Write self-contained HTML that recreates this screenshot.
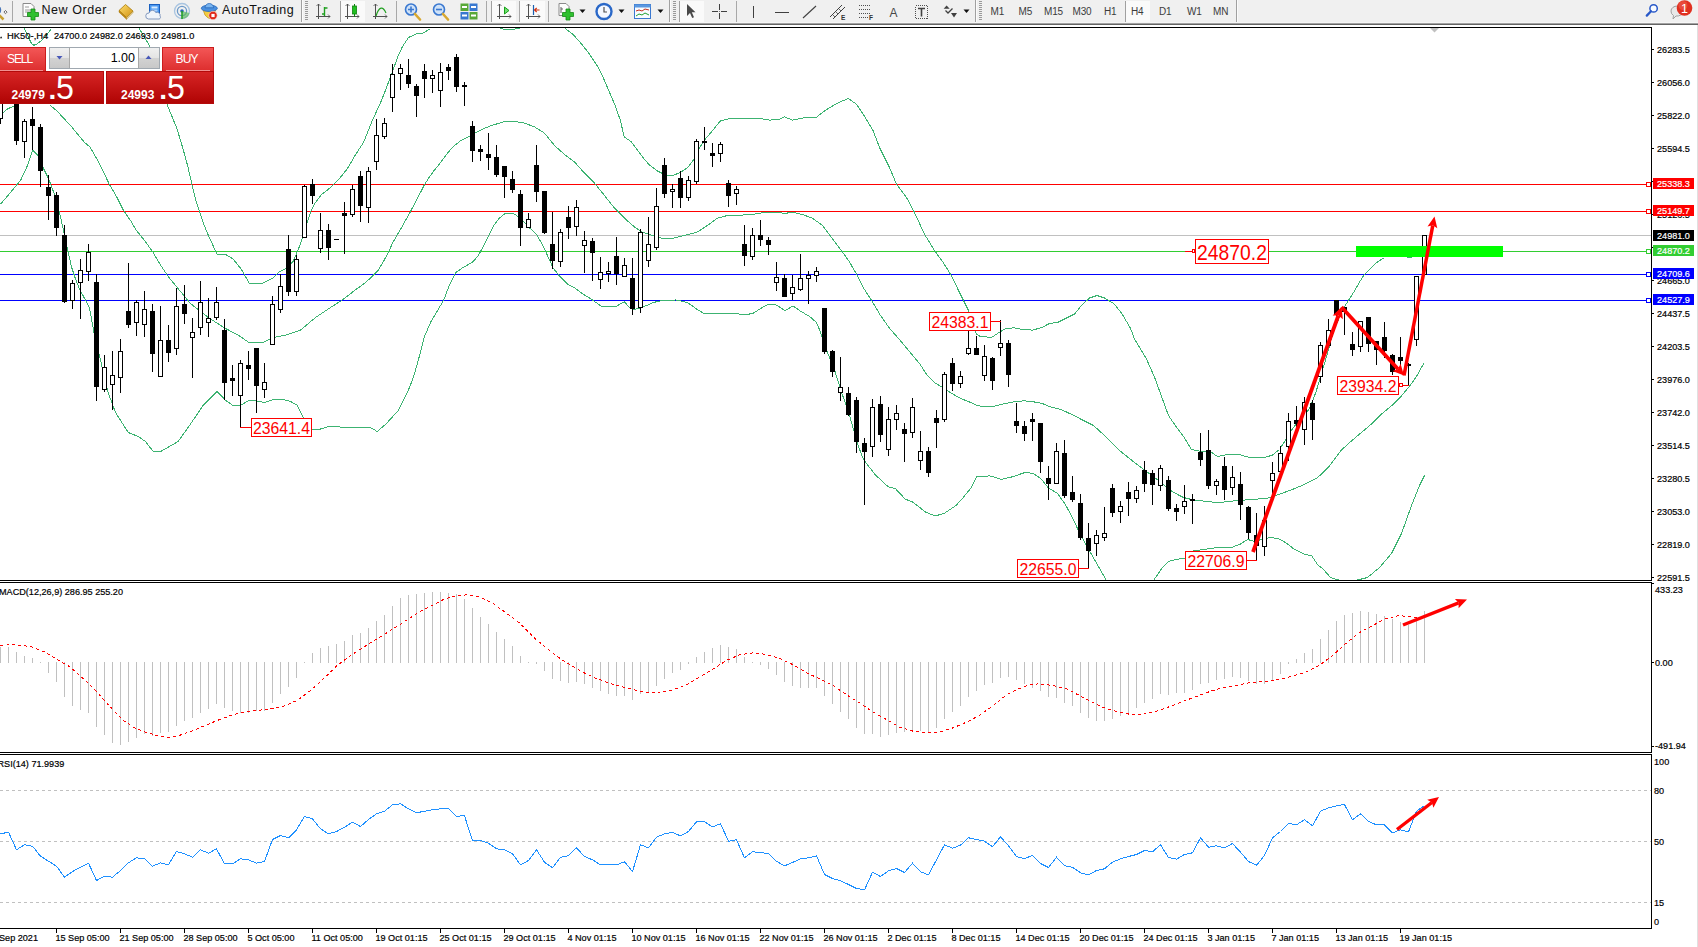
<!DOCTYPE html><html><head><meta charset="utf-8"><title>HK50-,H4</title><style>
html,body{margin:0;padding:0;background:#fff;}
body{width:1698px;height:947px;overflow:hidden;position:relative;font-family:"Liberation Sans",sans-serif;}
#tb{position:absolute;left:0;top:0;width:1698px;height:22px;background:#f0f0f0;}
#tbl0{position:absolute;left:0;top:22px;width:1698px;height:1px;background:#f6f6f6;}
#tbl1{position:absolute;left:0;top:23px;width:1698px;height:1px;background:#a2a2a2;}
#tbl2{position:absolute;left:0;top:24px;width:1698px;height:1px;background:#646464;}
#tbl3{position:absolute;left:0;top:25px;width:1698px;height:2px;background:#fff;}
#chart{position:absolute;left:0;top:0;}
.tbt{position:absolute;top:2px;font-size:12.5px;color:#101010;white-space:nowrap;line-height:16px;}
.tf{position:absolute;top:6.3px;font-size:10px;color:#3c3c3c;white-space:nowrap;line-height:12px;letter-spacing:-0.2px}
.sep{position:absolute;top:1px;width:1px;height:21px;background:#a8a8a8;}
.bnd{position:absolute;top:0;width:1px;height:23px;background:#a0a0a0;box-shadow:1px 0 0 #fbfbfb}
.hdl{position:absolute;top:1px;width:3px;height:19px;background:repeating-linear-gradient(to bottom,#9a9a9a 0,#9a9a9a 1px,#f0f0f0 1px,#f0f0f0 2px);}
.prs{position:absolute;top:1px;height:21px;background:#fafafa;border-left:1px solid #a0a0a0;box-sizing:border-box}
.ic{position:absolute;top:2px;}
#panel{position:absolute;left:0;top:47px;width:214px;height:57px;}
#panel div{position:absolute;box-sizing:border-box;}
.rbtn{background:linear-gradient(#f35656,#dc2c2c);color:#fff;font-size:12px;border:1px solid #cc1c1c;border-bottom:none}
.rbox{background:linear-gradient(#d62424,#b00404);color:#fff;border:1px solid #b40a0a;}
.sm{font-weight:bold;font-size:12px;color:#fff;line-height:12px;}
.big{font-size:33.5px;color:#fff;line-height:33.5px;transform-origin:0 0;transform:scaleX(0.96);}
.dot{font-size:28px;font-weight:bold;color:#fff;line-height:28px;}

</style></head><body>
<div id="tb">
<svg class="ic" style="left:0px;top:2px" width="10" height="20" viewBox="0 0 10 20"><circle cx="-3.2" cy="8" r="4" fill="#6aa0e0" stroke="#3a6ab0"/><path d="M-1 13 L3.500 17.500" stroke="#c8a030" stroke-width="2.500"/><path d="M5.500 8.500 l1.600 1.600 l-1.600 1.600 l-1.600 -1.600 z" fill="none" stroke="#333" stroke-width="0.700"/></svg>
<div class="sep" style="left:12px"></div>
<svg class="ic" style="left:21px;top:1px" width="20" height="21" viewBox="0 0 20 21"><path d="M2 2.5 h8 l3 3 v10 h-11 z" fill="#fdfdfd" stroke="#8a8a8a"/><path d="M4 6h4M4 9h6M4 11h6" stroke="#9a9a9a"/><path d="M10 8 h4 v3.5 h3.5 v4 h-3.5 v3.5 h-4 v-3.5 h-3.5 v-4 h3.5 z" fill="#2fc02f" stroke="#158a15" stroke-width="0.8"/></svg>
<div class="tbt" style="left:41.5px;letter-spacing:0.55px">New Order</div>
<svg class="ic" style="left:117px;top:1px" width="19" height="21" viewBox="0 0 19 21"><defs><linearGradient id="gy" x1="0" y1="0" x2="1" y2="1"><stop offset="0" stop-color="#ffe070"/><stop offset="1" stop-color="#d09010"/></linearGradient></defs><path d="M2 9.500 L8.500 3.500 L16 10 L9.500 16.500 Z" fill="url(#gy)" stroke="#a87808" stroke-width="0.800"/><path d="M2 9.500 L9.500 16.500 L9.500 18.300 L2 11.200 Z" fill="#c08810" stroke="#a87808" stroke-width="0.500"/><path d="M9.500 16.500 L16 10 L16 11.500 L9.500 18.300 Z" fill="#e8d8a0" stroke="#a87808" stroke-width="0.500"/></svg>
<svg class="ic" style="left:145px;top:1px" width="19" height="21" viewBox="0 0 19 21"><rect x="4.500" y="3.500" width="10" height="8.500" fill="#4a98f0" stroke="#1a60c0"/><rect x="6.500" y="5.500" width="6" height="2" fill="#d8ecff"/><rect x="6.500" y="8.500" width="6" height="2" fill="#a8d0ff"/><path d="M3.500 18 a3 3 0 0 1 0.500 -6 a3.600 3.600 0 0 1 6.800 -0.500 a3 3 0 0 1 4.200 3.500 a1.800 1.800 0 0 1 -0.800 3 z" fill="#f0f4fa" stroke="#7890b8" stroke-width="0.900"/></svg>
<svg class="ic" style="left:173px;top:1px" width="19" height="21" viewBox="0 0 19 21"><circle cx="9" cy="10" r="7.500" fill="none" stroke="#a8c4e0" stroke-width="1.300"/><circle cx="9" cy="10" r="4.600" fill="none" stroke="#6a98c8" stroke-width="1.300"/><path d="M9 10 L9 17.800 A7.800 7.800 0 0 0 16.500 12 Z" fill="#58b858" opacity="0.650"/><circle cx="9" cy="10" r="1.800" fill="#2a68b8"/><path d="M9 10 v8" stroke="#28a028" stroke-width="1.600"/></svg>
<svg class="ic" style="left:200px;top:1px" width="19" height="21" viewBox="0 0 19 21"><path d="M3 8.500 L5 14 Q9 19 13 17 L15.500 9 Z" fill="#f4cc40" stroke="#c89818" stroke-width="0.800"/><ellipse cx="9.300" cy="7.300" rx="8" ry="3.200" fill="#4a90e0" stroke="#2a68b8" stroke-width="0.800"/><path d="M5 6.800 a4.300 4.300 0 0 1 8.600 0 z" fill="#78b4f0" stroke="#2a68b8" stroke-width="0.800"/><circle cx="13" cy="14.500" r="4.200" fill="#e02818" stroke="#f8e8e8" stroke-width="0.600"/><rect x="11.400" y="12.900" width="3.200" height="3.200" fill="#fff"/></svg>
<div class="tbt" style="left:222px;letter-spacing:0.4px">AutoTrading</div>
<div class="bnd" style="left:301px"></div>
<div class="hdl" style="left:305px"></div>
<svg class="ic" style="left:315px;top:2px" width="17" height="20" viewBox="0 0 17 20"><path d="M3.5 2 v15 M1 14.5 h14" stroke="#505050" fill="none"/><path d="M1.5 4 l2 -2 l2 2 M13 12.5 l2 2 l-2 2" stroke="#505050" fill="none" stroke-width="0.8"/><path d="M9.5 5 v9 M9.5 6 h3 M7 12 h2.5" stroke="#20a020" stroke-width="1.4" fill="none"/></svg>
<div class="prs" style="left:340px;width:25px"></div>
<svg class="ic" style="left:344px;top:2px" width="17" height="20" viewBox="0 0 17 20"><path d="M3.5 2 v15 M1 14.5 h14" stroke="#505050" fill="none"/><path d="M1.5 4 l2 -2 l2 2 M13 12.5 l2 2 l-2 2" stroke="#505050" fill="none" stroke-width="0.8"/><path d="M10.5 2 v13" stroke="#108010"/><rect x="8.5" y="4" width="4" height="8" fill="#20c020" stroke="#108010" stroke-width="0.8"/></svg>
<svg class="ic" style="left:372px;top:2px" width="17" height="20" viewBox="0 0 17 20"><path d="M3.5 2 v15 M1 14.5 h14" stroke="#505050" fill="none"/><path d="M1.5 4 l2 -2 l2 2 M13 12.5 l2 2 l-2 2" stroke="#505050" fill="none" stroke-width="0.8"/><path d="M4 14 C7 4 11 4 14 11" stroke="#20a020" fill="none" stroke-width="1.2"/></svg>
<div class="sep" style="left:396px"></div>
<svg class="ic" style="left:404px;top:2px" width="19" height="20" viewBox="0 0 19 20"><circle cx="7" cy="7.5" r="5.5" fill="#cfe2f8" stroke="#3a78d0" stroke-width="1.6"/><path d="M11 12 L16 17.5" stroke="#d8a830" stroke-width="2.6" stroke-linecap="round"/><path d="M4 7.5 h6 M7 4.5 v6" stroke="#3a78d0" stroke-width="1.6"/></svg>
<svg class="ic" style="left:432px;top:2px" width="19" height="20" viewBox="0 0 19 20"><circle cx="7" cy="7.5" r="5.5" fill="#cfe2f8" stroke="#3a78d0" stroke-width="1.6"/><path d="M11 12 L16 17.5" stroke="#d8a830" stroke-width="2.6" stroke-linecap="round"/><path d="M4 7.5 h6" stroke="#3a78d0" stroke-width="1.6"/></svg>
<svg class="ic" style="left:460px;top:2px" width="19" height="20" viewBox="0 0 19 20"><rect x="0.5" y="1.5" width="8" height="7.5" fill="#58a838"/><rect x="9.5" y="1.5" width="8" height="7.5" fill="#3878d0"/><rect x="0.5" y="10" width="8" height="7.5" fill="#3878d0"/><rect x="9.5" y="10" width="8" height="7.5" fill="#58a838"/><path d="M2 5h5M11 5h5M2 13.5h5M11 13.5h5" stroke="#fff" stroke-width="2"/></svg>
<div class="sep" style="left:486px"></div>
<div class="prs" style="left:491px;width:25px"></div>
<svg class="ic" style="left:496px;top:2px" width="17" height="20" viewBox="0 0 17 20"><path d="M3.5 2 v15 M1 14.5 h14" stroke="#505050" fill="none"/><path d="M1.5 4 l2 -2 l2 2 M13 12.5 l2 2 l-2 2" stroke="#505050" fill="none" stroke-width="0.8"/><path d="M8.500 5 l4.500 3.500 l-4.500 3.500 z" fill="#70e070" stroke="#18a018" stroke-width="1"/></svg>
<div class="sep" style="left:519px"></div>
<div class="prs" style="left:520px;width:25px;border-left:none"></div>
<svg class="ic" style="left:525px;top:2px" width="17" height="20" viewBox="0 0 17 20"><path d="M3.5 2 v15 M1 14.5 h14" stroke="#505050" fill="none"/><path d="M1.5 4 l2 -2 l2 2 M13 12.5 l2 2 l-2 2" stroke="#505050" fill="none" stroke-width="0.8"/><path d="M8.500 3 v10" stroke="#1a60b0" stroke-width="1.200"/><path d="M14.500 8 h-5 m2.200 -2 l-2.200 2 l2.200 2" stroke="#d03010" fill="none" stroke-width="1.100"/></svg>
<div class="sep" style="left:548px"></div>
<svg class="ic" style="left:557px;top:1px" width="19" height="21" viewBox="0 0 19 21"><path d="M2 2.5 h7 l3 3 v9 h-10 z" fill="#fdfdfd" stroke="#8a8a8a"/><path d="M4 6 v6 M4 8 h2" stroke="#606060"/><path d="M9 8 h4 v3.5 h3.5 v4 h-3.5 v3.5 h-4 v-3.5 h-3.5 v-4 h3.5 z" fill="#2fc02f" stroke="#158a15" stroke-width="0.8"/></svg>
<svg class="ic" style="left:579px;top:9px" width="8" height="5"><path d="M0.5 0.5 h6 l-3 3.5 z" fill="#111"/></svg>
<svg class="ic" style="left:595px;top:2px" width="19" height="20" viewBox="0 0 19 20"><circle cx="9" cy="9.5" r="7.5" fill="#f4f8ff" stroke="#2a68c8" stroke-width="2.4"/><path d="M9 5 v5 h3" stroke="#505050" fill="none" stroke-width="1.2"/></svg>
<svg class="ic" style="left:618px;top:9px" width="8" height="5"><path d="M0.5 0.5 h6 l-3 3.5 z" fill="#111"/></svg>
<svg class="ic" style="left:634px;top:2px" width="18" height="20" viewBox="0 0 18 20"><rect x="0.5" y="2.5" width="16" height="14" fill="#f8fbff" stroke="#3a78d0"/><rect x="0.5" y="2.5" width="16" height="3" fill="#5a98e0"/><path d="M2 9 l3 -1 l3 1 l3 -2 l4 1" stroke="#c03020" fill="none"/><path d="M2 14 l3 -2 l3 1 l3 -2 l4 2" stroke="#20a030" fill="none"/></svg>
<svg class="ic" style="left:657px;top:9px" width="8" height="5"><path d="M0.5 0.5 h6 l-3 3.5 z" fill="#111"/></svg>
<div class="bnd" style="left:669px"></div>
<div class="hdl" style="left:673px"></div>
<div class="prs" style="left:679px;width:25px;"></div>
<svg class="ic" style="left:685px;top:2px" width="14" height="20" viewBox="0 0 14 20"><path d="M2 2 L2 14 L5 11 L7.200 16 L9 15.200 L6.800 10.300 L10.500 10.300 Z" fill="#4a4a4a"/></svg>
<svg class="ic" style="left:711px;top:2px" width="18" height="20" viewBox="0 0 18 20"><path d="M8.500 2 v6 M8.500 11 v6 M1 9.500 h6 M10 9.500 h6" stroke="#404040"/><rect x="8" y="9" width="1" height="1" fill="#808080"/></svg>
<div class="sep" style="left:736px"></div>
<svg class="ic" style="left:748px;top:2px" width="12" height="20" viewBox="0 0 12 20"><path d="M5.5 4 v12" stroke="#404040"/></svg>
<svg class="ic" style="left:774px;top:2px" width="16" height="20" viewBox="0 0 16 20"><path d="M1 10.500 h14" stroke="#404040"/></svg>
<svg class="ic" style="left:802px;top:2px" width="16" height="20" viewBox="0 0 16 20"><path d="M1 16 L14 4" stroke="#404040" stroke-width="1.1"/></svg>
<svg class="ic" style="left:829px;top:2px" width="19" height="20" viewBox="0 0 19 20"><path d="M1 15 L13 3 M4 17 L16 5" stroke="#404040" stroke-width="1"/><path d="M3 12 l3 3 M6 9 l3 3 M9 6 l3 3" stroke="#404040" stroke-width="0.8"/><text x="12" y="17.5" font-size="6.5" font-weight="bold" fill="#303030" font-family="Liberation Sans, sans-serif">E</text></svg>
<svg class="ic" style="left:858px;top:2px" width="17" height="20" viewBox="0 0 17 20"><path d="M1 3.500 h12 M1 7.500 h12 M1 11.500 h12 M1 15.500 h9" stroke="#505050" stroke-dasharray="1 1"/><text x="11" y="17.5" font-size="6.5" font-weight="bold" fill="#303030" font-family="Liberation Sans, sans-serif">F</text></svg>
<div class="tbt" style="left:889.5px;top:4.5px;font-size:12px;color:#484848;">A</div>
<svg class="ic" style="left:914px;top:2px" width="16" height="20" viewBox="0 0 16 20"><rect x="1.500" y="3.500" width="12" height="13" fill="none" stroke="#505050" stroke-dasharray="1 1" shape-rendering="crispEdges"/><path d="M4 6.500 h7 M7.500 6.500 v8" stroke="#404040" stroke-width="1.6"/></svg>
<svg class="ic" style="left:942px;top:2px" width="16" height="20" viewBox="0 0 16 20"><path d="M1.600 6.800 L4.600 3.400 L7.700 6.800 Z M9 10.900 L15 10.900 L12 15.600 Z" fill="#404040"/><path d="M3.500 8.500 l2.500 2.500 l4.500 -4.500" stroke="#404040" fill="none" stroke-width="1.300"/></svg>
<svg class="ic" style="left:963px;top:9px" width="8" height="5"><path d="M0.5 0.5 h6 l-3 3.5 z" fill="#111"/></svg>
<div class="bnd" style="left:975px"></div>
<div class="hdl" style="left:979px"></div>
<div class="prs" style="left:1125px;width:25px"></div>
<div class="tf" style="left:990.5px">M1</div>
<div class="tf" style="left:1018.5px">M5</div>
<div class="tf" style="left:1044px">M15</div>
<div class="tf" style="left:1072.5px">M30</div>
<div class="tf" style="left:1104px">H1</div>
<div class="tf" style="left:1131px">H4</div>
<div class="tf" style="left:1159px">D1</div>
<div class="tf" style="left:1187px">W1</div>
<div class="tf" style="left:1213px">MN</div>
<div class="bnd" style="left:1236px"></div>
<svg class="ic" style="left:1642px;top:1px" width="18" height="20" viewBox="0 0 18 20"><circle cx="11.600" cy="7.400" r="3.700" fill="#f8fbff" stroke="#2858c8" stroke-width="1.500"/><path d="M9 10.300 L4.800 14.600" stroke="#2858c8" stroke-width="2.300" stroke-linecap="round"/></svg>
<svg class="ic" style="left:1669px;top:0px" width="24" height="22" viewBox="0 0 24 22"><path d="M2 11 a6 5 0 1 1 5 5 l-3 3 l0.500 -3.500 a5 5 0 0 1 -2.500 -4.500 z" fill="#e8e8e8" stroke="#a0a0a0"/><circle cx="15.500" cy="8" r="7.800" fill="#e03020"/><circle cx="14" cy="5.500" r="4.500" fill="#f06050" opacity="0.550"/><text x="15.500" y="12.500" font-size="12.500" fill="#fff" text-anchor="middle" font-family="Liberation Sans, sans-serif">1</text></svg>
</div><div id="tbl0"></div><div id="tbl1"></div><div id="tbl2"></div><div id="tbl3"></div>
<svg id="chart" width="1698" height="947" viewBox="0 0 1698 947" font-family='"Liberation Sans", sans-serif' font-size="9.8" shape-rendering="crispEdges">
<rect x="0" y="27" width="1652" height="1" fill="#000"/>
<rect x="1651" y="27" width="1" height="554" fill="#000"/>
<rect x="0" y="580" width="1652" height="1" fill="#000"/>
<rect x="0" y="582" width="1652" height="1" fill="#000"/>
<rect x="1651" y="582" width="1" height="171" fill="#000"/>
<rect x="0" y="752" width="1652" height="1" fill="#000"/>
<rect x="0" y="754" width="1652" height="1" fill="#000"/>
<rect x="1651" y="754" width="1" height="175" fill="#000"/>
<rect x="0" y="928" width="1652" height="1" fill="#000"/>
<rect x="1697" y="25" width="1" height="922" fill="#e0e0e0"/>
<clipPath id="cm"><rect x="0" y="28" width="1651" height="552"/></clipPath>
<g clip-path="url(#cm)">
<rect x="0" y="184" width="1651" height="1" fill="#ff0000"/>
<rect x="0" y="211" width="1651" height="1" fill="#ff0000"/>
<rect x="0" y="235" width="1651" height="1" fill="#c0c0c0"/>
<rect x="0" y="251" width="1651" height="1" fill="#32cd32"/>
<rect x="0" y="274" width="1651" height="1" fill="#0000ff"/>
<rect x="0" y="300" width="1651" height="1" fill="#0000ff"/>
<polyline points="24.5,28.5 28.8,38.0 31.5,43.5 33.7,45.2 35.8,44.7 42.2,40.1 46.5,35.1 51.4,28.8" fill="none" stroke="#3cb371" stroke-width="1" />
<polyline points="138.5,27.5 143.5,35.5 149.0,44.8 155.5,70.5 167.9,106.5 176.9,128.5 182.9,148.5 187.9,166.7 192.0,184.8 196.0,200.8 200.0,212.8 204.0,224.9 209.0,236.9 216.0,252.0 217.0,254.0 225.0,254.0 233.1,259.0 241.1,269.0 249.1,283.0 263.2,283.0 273.2,278.0 279.2,272.0 287.2,268.0 293.3,261.0 299.3,246.9 305.3,228.9 310.3,212.8 315.3,202.8 321.3,194.8 331.4,186.8 339.4,178.7 347.4,168.7 355.5,154.7 363.5,142.5 371.5,122.5 380.5,102.7 386.5,87.7 392.5,71.5 397.5,57.5 402.5,46.5 408.5,37.5 416.5,33.9 423.5,32.9 430.5,28.5" fill="none" stroke="#3cb371" stroke-width="1" />
<polyline points="500.5,28.0 503.5,29.1 509.5,29.5 516.5,28.9 519.5,28.0" fill="none" stroke="#3cb371" stroke-width="1" />
<polyline points="565.1,28.5 573.1,34.5 581.1,43.5 589.1,53.5 597.1,65.5 603.2,77.5 609.2,91.7 615.2,105.7 620.2,119.8 624.2,136.8 631.3,141.8 637.3,149.9 643.3,157.9 649.3,164.9 657.3,170.9 665.4,174.9 671.4,175.9 679.4,172.9 687.4,167.9 693.4,159.9 699.5,147.9 705.5,138.8 711.5,131.8 720.5,120.8 732.4,118.1 757.4,118.1 769.5,120.1 779.5,119.4 784.5,116.9 792.5,120.1 805.0,117.5 816.2,117.5 825.0,110.5 837.5,103.1 848.2,98.5 856.5,104.2 863.2,114.2 873.2,130.8 879.5,147.5 889.5,167.5 896.5,184.2 906.5,197.5 914.5,212.5 924.5,234.2 934.5,250.5 943.2,262.5 951.5,275.8 958.5,290.5 963.2,299.9 968.8,311.2 972.5,320.5 976.3,333.8 980.1,336.3 991.5,337.5 997.1,333.8 1004.5,329.1 1014.0,327.8 1023.5,329.7 1032.9,330.1 1042.3,327.3 1049.5,323.5 1057.4,322.5 1064.9,318.8 1074.4,314.1 1081.5,305.5 1089.5,298.0 1097.0,295.5 1104.5,298.0 1113.9,303.7 1121.5,313.1 1130.5,328.2 1134.5,338.9 1146.5,359.0 1154.5,377.1 1163.0,400.5 1168.5,415.5 1176.2,426.9 1183.5,436.3 1191.3,449.5 1200.5,451.4 1210.1,451.4 1217.5,456.5 1229.0,454.2 1238.4,454.2 1247.5,457.0 1262.5,458.0 1272.3,455.2 1279.5,449.5 1285.5,440.1 1291.2,430.5 1298.5,421.2 1304.2,417.2 1310.9,405.4 1316.0,391.9 1321.0,375.0 1326.1,358.1 1331.2,339.5 1336.3,324.3 1343.0,309.1 1348.1,301.0 1354.8,290.5 1360.5,280.5 1363.8,275.4 1369.7,269.5 1375.5,263.5 1381.5,259.2 1384.5,257.8" fill="none" stroke="#3cb371" stroke-width="1" />
<polyline points="1407.5,257.5 1412.2,257.1" fill="none" stroke="#3cb371" stroke-width="1" />
<polyline points="3.4,112.5 7.5,109.0 12.4,106.7 16.5,104.5" fill="none" stroke="#3cb371" stroke-width="1" />
<polyline points="50.5,105.5 57.5,111.5 72.2,127.5 84.1,142.0 89.8,146.8 95.5,156.5 102.2,169.1 109.3,184.3 116.5,196.5 123.5,210.5 130.5,220.5 136.5,230.5 144.5,240.5 152.5,251.5 160.5,265.0 168.5,277.0 178.5,289.1 190.5,303.5 208.3,317.5 225.5,328.5 238.3,335.1 248.3,342.1 255.5,342.8 263.3,342.5 273.3,337.5 285.5,335.1 300.5,330.1 315.5,317.5 330.5,307.5 342.6,299.8 354.2,290.8 365.8,282.3 374.3,274.4 377.5,271.2 382.7,262.8 388.5,252.2 392.2,243.8 396.5,235.9 400.7,229.0 406.0,219.5 410.2,212.1 416.3,200.3 420.5,192.4 424.3,185.0 429.0,177.6 434.3,170.2 439.5,163.9 444.9,156.5 450.1,150.1 455.4,144.9 460.7,140.6 466.0,138.0 471.2,135.3 476.5,132.2 482.9,129.0 489.2,126.4 495.5,124.3 500.3,122.9 504.5,121.4 514.5,121.4 524.5,123.1 534.5,126.9 544.5,133.1 554.5,145.5 564.5,154.4 574.5,161.9 584.5,173.2 594.5,183.2 604.5,195.5 614.5,208.2 624.5,218.2 634.5,227.0 642.3,232.0 652.3,235.5 662.3,238.3 672.3,238.3 684.5,235.5 697.3,232.0 707.4,225.5 717.4,218.2 727.4,215.5 739.5,215.2 752.4,214.5 764.5,212.5 779.5,212.5 784.5,213.5 792.5,212.2 802.5,214.5 812.5,218.2 822.5,225.5 830.0,235.5 837.5,245.5 845.0,255.5 849.5,262.0 856.5,274.2 863.2,287.5 872.5,301.8 880.2,315.0 889.5,328.2 901.0,341.4 910.4,352.7 919.8,364.0 927.3,375.3 934.9,382.8 942.5,387.5 950.0,392.3 959.4,397.9 968.8,401.7 976.3,405.1 983.9,406.8 993.3,406.4 1002.5,404.1 1012.2,402.1 1023.5,400.8 1032.9,401.7 1042.3,403.5 1051.5,407.3 1061.2,409.5 1074.4,415.8 1083.5,420.5 1093.2,425.3 1100.5,431.8 1110.2,441.3 1119.5,450.5 1134.5,462.5 1146.0,471.2 1157.3,479.5 1172.5,491.9 1183.5,497.5 1195.0,500.4 1206.4,501.3 1217.5,502.8 1229.0,501.3 1240.3,500.4 1251.5,499.4 1266.5,498.5 1278.0,494.7 1291.2,490.0 1304.4,484.4 1317.5,477.8 1328.9,466.5 1341.3,450.2 1351.5,440.9 1361.5,432.4 1371.5,424.0 1381.9,413.8 1392.0,405.4 1402.1,395.2 1410.5,385.1 1417.3,375.0 1424.1,362.8" fill="none" stroke="#3cb371" stroke-width="1" />
<polyline points="0.5,204.2 10.5,192.5 20.5,180.5 27.5,165.5 32.8,150.1 38.5,156.3 40.5,162.5 48.5,178.5 54.5,194.5 59.5,212.5 63.5,230.5 67.5,249.0 71.5,267.0 75.5,279.0 79.5,289.1 89.4,307.5 94.4,335.1 100.5,360.1 108.1,392.5 115.5,412.5 128.2,432.5 138.2,436.5 145.5,441.5 153.2,451.5 160.5,451.5 178.2,441.5 190.5,424.0 203.3,405.2 217.0,391.5 225.5,400.2 233.3,405.9 240.5,405.2 248.3,400.9 255.5,400.9 264.5,402.5 273.3,399.5 283.4,399.5 290.5,401.5 297.1,405.2 303.4,417.5 307.5,425.5 312.1,429.0 320.5,429.0 328.5,426.5 350.5,427.5 370.5,427.5 377.2,431.5 386.0,424.0 398.5,410.2 406.0,395.2 410.5,385.1 415.4,370.5 420.3,352.8 424.2,337.2 431.0,321.5 437.9,309.9 443.7,300.1 448.5,287.5 455.5,272.8 462.3,267.9 472.1,262.5 477.9,256.2 482.8,247.4 487.7,237.5 493.5,225.9 499.4,218.1 505.3,213.2 513.1,213.2 518.9,217.1 524.8,223.0 530.5,228.8 536.5,234.5 542.4,244.5 548.2,257.1 553.1,267.9 559.0,275.5 567.8,284.5 575.5,288.4 583.4,294.3 591.2,299.1 601.0,306.0 608.3,307.0 615.9,306.5 624.4,301.7 629.1,307.3 634.7,309.5 642.3,307.3 653.5,302.5 663.0,300.2 676.2,300.0 687.5,302.5 696.9,309.2 704.5,313.9 719.5,313.4 729.0,313.0 738.4,313.9 745.9,314.9 753.5,313.0 761.0,308.3 768.5,304.1 776.1,304.9 785.1,310.7 793.0,306.0 800.5,311.1 810.0,316.8 816.5,322.5 820.4,331.8 825.1,346.9 830.7,360.1 835.0,371.5 841.5,392.3 848.2,411.1 854.8,433.7 858.5,446.5 863.5,459.5 875.0,474.5 888.2,486.8 895.5,488.7 905.2,499.1 912.5,501.9 925.9,512.3 935.3,516.0 944.5,513.2 956.0,505.5 963.5,497.2 971.1,487.8 976.5,476.8 990.0,475.9 1001.3,479.3 1012.5,476.8 1025.5,472.3 1033.3,473.5 1040.5,478.3 1048.4,487.8 1057.5,493.5 1065.4,504.5 1072.5,517.9 1080.5,534.9 1088.0,548.1 1095.5,561.3 1103.0,574.5 1106.5,580.5" fill="none" stroke="#3cb371" stroke-width="1" />
<polyline points="1153.5,580.5 1161.5,568.8 1168.5,561.5 1176.2,559.5 1185.5,557.9 1191.3,551.3 1217.5,547.5 1232.5,547.1 1240.3,544.1 1247.5,539.5 1255.3,541.5 1262.5,539.0 1270.5,537.5 1278.0,538.5 1285.5,542.5 1294.5,549.4 1304.4,554.1 1311.9,556.0 1317.5,564.5 1323.2,569.2 1330.5,577.5 1338.5,580.0 1350.5,580.5" fill="none" stroke="#3cb371" stroke-width="1" />
<polyline points="1355.5,580.5 1367.5,577.5 1379.5,567.5 1391.5,553.5 1401.5,533.5 1411.5,505.5 1419.5,485.5 1424.5,475.5" fill="none" stroke="#3cb371" stroke-width="1" />
<rect x="2" y="104" width="1" height="15" fill="#000"/>
<rect x="0" y="118" width="3" height="1" fill="#000"/>
<rect x="0" y="118" width="1" height="6" fill="#000"/>
<rect x="16" y="90" width="1" height="55" fill="#000"/>
<rect x="14" y="95" width="5" height="46" fill="#000"/>
<rect x="24" y="119" width="1" height="39" fill="#000"/>
<rect x="22" y="121" width="5" height="21" fill="#000"/>
<rect x="23" y="122" width="3" height="19" fill="#fff"/>
<rect x="32" y="107" width="1" height="43" fill="#000"/>
<rect x="30" y="119" width="5" height="7" fill="#000"/>
<rect x="40" y="124" width="1" height="63" fill="#000"/>
<rect x="38" y="127" width="5" height="44" fill="#000"/>
<rect x="48" y="175" width="1" height="45" fill="#000"/>
<rect x="46" y="187" width="5" height="9" fill="#000"/>
<rect x="56" y="192" width="1" height="44" fill="#000"/>
<rect x="54" y="195" width="5" height="33" fill="#000"/>
<rect x="64" y="225" width="1" height="78" fill="#000"/>
<rect x="62" y="235" width="5" height="67" fill="#000"/>
<rect x="72" y="280" width="1" height="29" fill="#000"/>
<rect x="70" y="283" width="5" height="18" fill="#000"/>
<rect x="71" y="284" width="3" height="16" fill="#fff"/>
<rect x="80" y="259" width="1" height="60" fill="#000"/>
<rect x="78" y="270" width="5" height="13" fill="#000"/>
<rect x="79" y="271" width="3" height="11" fill="#fff"/>
<rect x="88" y="244" width="1" height="37" fill="#000"/>
<rect x="86" y="252" width="5" height="20" fill="#000"/>
<rect x="87" y="253" width="3" height="18" fill="#fff"/>
<rect x="96" y="274" width="1" height="127" fill="#000"/>
<rect x="94" y="282" width="5" height="105" fill="#000"/>
<rect x="104" y="355" width="1" height="37" fill="#000"/>
<rect x="102" y="367" width="5" height="23" fill="#000"/>
<rect x="103" y="368" width="3" height="21" fill="#fff"/>
<rect x="112" y="351" width="1" height="59" fill="#000"/>
<rect x="110" y="375" width="5" height="10" fill="#000"/>
<rect x="111" y="376" width="3" height="8" fill="#fff"/>
<rect x="120" y="339" width="1" height="54" fill="#000"/>
<rect x="118" y="351" width="5" height="27" fill="#000"/>
<rect x="119" y="352" width="3" height="25" fill="#fff"/>
<rect x="128" y="263" width="1" height="65" fill="#000"/>
<rect x="126" y="311" width="5" height="14" fill="#000"/>
<rect x="136" y="300" width="1" height="36" fill="#000"/>
<rect x="134" y="302" width="5" height="21" fill="#000"/>
<rect x="135" y="303" width="3" height="19" fill="#fff"/>
<rect x="144" y="291" width="1" height="46" fill="#000"/>
<rect x="142" y="309" width="5" height="16" fill="#000"/>
<rect x="143" y="310" width="3" height="14" fill="#fff"/>
<rect x="152" y="304" width="1" height="68" fill="#000"/>
<rect x="150" y="311" width="5" height="43" fill="#000"/>
<rect x="160" y="306" width="1" height="71" fill="#000"/>
<rect x="158" y="340" width="5" height="37" fill="#000"/>
<rect x="159" y="341" width="3" height="35" fill="#fff"/>
<rect x="168" y="325" width="1" height="37" fill="#000"/>
<rect x="166" y="340" width="5" height="13" fill="#000"/>
<rect x="176" y="288" width="1" height="67" fill="#000"/>
<rect x="174" y="306" width="5" height="43" fill="#000"/>
<rect x="175" y="307" width="3" height="41" fill="#fff"/>
<rect x="184" y="285" width="1" height="39" fill="#000"/>
<rect x="182" y="304" width="5" height="10" fill="#000"/>
<rect x="192" y="318" width="1" height="60" fill="#000"/>
<rect x="190" y="332" width="5" height="6" fill="#000"/>
<rect x="191" y="333" width="3" height="4" fill="#fff"/>
<rect x="200" y="281" width="1" height="54" fill="#000"/>
<rect x="198" y="302" width="5" height="26" fill="#000"/>
<rect x="199" y="303" width="3" height="24" fill="#fff"/>
<rect x="208" y="298" width="1" height="39" fill="#000"/>
<rect x="206" y="318" width="5" height="5" fill="#000"/>
<rect x="207" y="319" width="3" height="3" fill="#fff"/>
<rect x="216" y="287" width="1" height="33" fill="#000"/>
<rect x="214" y="302" width="5" height="16" fill="#000"/>
<rect x="215" y="303" width="3" height="14" fill="#fff"/>
<rect x="224" y="319" width="1" height="81" fill="#000"/>
<rect x="222" y="330" width="5" height="53" fill="#000"/>
<rect x="232" y="365" width="1" height="31" fill="#000"/>
<rect x="230" y="378" width="5" height="3" fill="#000"/>
<rect x="240" y="360" width="1" height="67" fill="#000"/>
<rect x="238" y="363" width="5" height="33" fill="#000"/>
<rect x="239" y="364" width="3" height="31" fill="#fff"/>
<rect x="248" y="351" width="1" height="29" fill="#000"/>
<rect x="246" y="365" width="5" height="4" fill="#000"/>
<rect x="256" y="348" width="1" height="65" fill="#000"/>
<rect x="254" y="348" width="5" height="38" fill="#000"/>
<rect x="264" y="363" width="1" height="35" fill="#000"/>
<rect x="262" y="382" width="5" height="8" fill="#000"/>
<rect x="263" y="383" width="3" height="6" fill="#fff"/>
<rect x="272" y="296" width="1" height="49" fill="#000"/>
<rect x="270" y="304" width="5" height="41" fill="#000"/>
<rect x="271" y="305" width="3" height="39" fill="#fff"/>
<rect x="280" y="274" width="1" height="39" fill="#000"/>
<rect x="278" y="286" width="5" height="24" fill="#000"/>
<rect x="279" y="287" width="3" height="22" fill="#fff"/>
<rect x="288" y="235" width="1" height="61" fill="#000"/>
<rect x="286" y="249" width="5" height="43" fill="#000"/>
<rect x="296" y="255" width="1" height="41" fill="#000"/>
<rect x="294" y="259" width="5" height="33" fill="#000"/>
<rect x="295" y="260" width="3" height="31" fill="#fff"/>
<rect x="304" y="185" width="1" height="53" fill="#000"/>
<rect x="302" y="186" width="5" height="52" fill="#000"/>
<rect x="303" y="187" width="3" height="50" fill="#fff"/>
<rect x="312" y="179" width="1" height="25" fill="#000"/>
<rect x="310" y="184" width="5" height="12" fill="#000"/>
<rect x="320" y="213" width="1" height="40" fill="#000"/>
<rect x="318" y="230" width="5" height="19" fill="#000"/>
<rect x="319" y="231" width="3" height="17" fill="#fff"/>
<rect x="328" y="224" width="1" height="36" fill="#000"/>
<rect x="326" y="230" width="5" height="18" fill="#000"/>
<rect x="334" y="239" width="5" height="1" fill="#000"/>
<rect x="344" y="202" width="1" height="52" fill="#000"/>
<rect x="342" y="213" width="5" height="3" fill="#000"/>
<rect x="352" y="185" width="1" height="32" fill="#000"/>
<rect x="350" y="189" width="5" height="26" fill="#000"/>
<rect x="351" y="190" width="3" height="24" fill="#fff"/>
<rect x="360" y="171" width="1" height="51" fill="#000"/>
<rect x="358" y="176" width="5" height="30" fill="#000"/>
<rect x="368" y="167" width="1" height="56" fill="#000"/>
<rect x="366" y="171" width="5" height="37" fill="#000"/>
<rect x="367" y="172" width="3" height="35" fill="#fff"/>
<rect x="376" y="119" width="1" height="51" fill="#000"/>
<rect x="374" y="135" width="5" height="27" fill="#000"/>
<rect x="375" y="136" width="3" height="25" fill="#fff"/>
<rect x="384" y="118" width="1" height="21" fill="#000"/>
<rect x="382" y="123" width="5" height="14" fill="#000"/>
<rect x="383" y="124" width="3" height="12" fill="#fff"/>
<rect x="392" y="64" width="1" height="48" fill="#000"/>
<rect x="390" y="74" width="5" height="24" fill="#000"/>
<rect x="391" y="75" width="3" height="22" fill="#fff"/>
<rect x="400" y="64" width="1" height="26" fill="#000"/>
<rect x="398" y="68" width="5" height="6" fill="#000"/>
<rect x="399" y="69" width="3" height="4" fill="#fff"/>
<rect x="408" y="59" width="1" height="29" fill="#000"/>
<rect x="406" y="75" width="5" height="9" fill="#000"/>
<rect x="416" y="84" width="1" height="33" fill="#000"/>
<rect x="414" y="86" width="5" height="10" fill="#000"/>
<rect x="424" y="64" width="1" height="34" fill="#000"/>
<rect x="422" y="71" width="5" height="8" fill="#000"/>
<rect x="432" y="70" width="1" height="23" fill="#000"/>
<rect x="430" y="75" width="5" height="4" fill="#000"/>
<rect x="431" y="76" width="3" height="2" fill="#fff"/>
<rect x="440" y="63" width="1" height="44" fill="#000"/>
<rect x="438" y="72" width="5" height="19" fill="#000"/>
<rect x="439" y="73" width="3" height="17" fill="#fff"/>
<rect x="448" y="64" width="1" height="16" fill="#000"/>
<rect x="446" y="67" width="5" height="4" fill="#000"/>
<rect x="456" y="54" width="1" height="38" fill="#000"/>
<rect x="454" y="57" width="5" height="30" fill="#000"/>
<rect x="464" y="82" width="1" height="24" fill="#000"/>
<rect x="462" y="85" width="5" height="2" fill="#000"/>
<rect x="472" y="121" width="1" height="41" fill="#000"/>
<rect x="470" y="126" width="5" height="25" fill="#000"/>
<rect x="480" y="145" width="1" height="16" fill="#000"/>
<rect x="478" y="149" width="5" height="3" fill="#000"/>
<rect x="488" y="133" width="1" height="37" fill="#000"/>
<rect x="486" y="154" width="5" height="4" fill="#000"/>
<rect x="496" y="145" width="1" height="32" fill="#000"/>
<rect x="494" y="157" width="5" height="18" fill="#000"/>
<rect x="504" y="166" width="1" height="32" fill="#000"/>
<rect x="502" y="166" width="5" height="11" fill="#000"/>
<rect x="512" y="171" width="1" height="22" fill="#000"/>
<rect x="510" y="179" width="5" height="11" fill="#000"/>
<rect x="520" y="190" width="1" height="56" fill="#000"/>
<rect x="518" y="194" width="5" height="34" fill="#000"/>
<rect x="528" y="213" width="1" height="15" fill="#000"/>
<rect x="526" y="219" width="5" height="9" fill="#000"/>
<rect x="527" y="220" width="3" height="7" fill="#fff"/>
<rect x="536" y="145" width="1" height="57" fill="#000"/>
<rect x="534" y="165" width="5" height="27" fill="#000"/>
<rect x="544" y="191" width="1" height="43" fill="#000"/>
<rect x="542" y="191" width="5" height="42" fill="#000"/>
<rect x="552" y="212" width="1" height="57" fill="#000"/>
<rect x="550" y="244" width="5" height="17" fill="#000"/>
<rect x="560" y="229" width="1" height="38" fill="#000"/>
<rect x="558" y="232" width="5" height="30" fill="#000"/>
<rect x="559" y="233" width="3" height="28" fill="#fff"/>
<rect x="568" y="206" width="1" height="33" fill="#000"/>
<rect x="566" y="217" width="5" height="11" fill="#000"/>
<rect x="576" y="200" width="1" height="36" fill="#000"/>
<rect x="574" y="207" width="5" height="20" fill="#000"/>
<rect x="575" y="208" width="3" height="18" fill="#fff"/>
<rect x="584" y="231" width="1" height="42" fill="#000"/>
<rect x="582" y="240" width="5" height="6" fill="#000"/>
<rect x="583" y="241" width="3" height="4" fill="#fff"/>
<rect x="592" y="238" width="1" height="43" fill="#000"/>
<rect x="590" y="241" width="5" height="12" fill="#000"/>
<rect x="600" y="257" width="1" height="32" fill="#000"/>
<rect x="598" y="272" width="5" height="8" fill="#000"/>
<rect x="599" y="273" width="3" height="6" fill="#fff"/>
<rect x="608" y="262" width="1" height="20" fill="#000"/>
<rect x="606" y="271" width="5" height="3" fill="#000"/>
<rect x="607" y="272" width="3" height="1" fill="#fff"/>
<rect x="616" y="237" width="1" height="48" fill="#000"/>
<rect x="614" y="256" width="5" height="18" fill="#000"/>
<rect x="624" y="258" width="1" height="19" fill="#000"/>
<rect x="622" y="265" width="5" height="12" fill="#000"/>
<rect x="623" y="266" width="3" height="10" fill="#fff"/>
<rect x="632" y="258" width="1" height="57" fill="#000"/>
<rect x="630" y="278" width="5" height="31" fill="#000"/>
<rect x="640" y="229" width="1" height="84" fill="#000"/>
<rect x="638" y="232" width="5" height="76" fill="#000"/>
<rect x="639" y="233" width="3" height="74" fill="#fff"/>
<rect x="648" y="217" width="1" height="50" fill="#000"/>
<rect x="646" y="244" width="5" height="17" fill="#000"/>
<rect x="647" y="245" width="3" height="15" fill="#fff"/>
<rect x="656" y="188" width="1" height="62" fill="#000"/>
<rect x="654" y="206" width="5" height="42" fill="#000"/>
<rect x="655" y="207" width="3" height="40" fill="#fff"/>
<rect x="664" y="158" width="1" height="40" fill="#000"/>
<rect x="662" y="165" width="5" height="29" fill="#000"/>
<rect x="672" y="184" width="1" height="24" fill="#000"/>
<rect x="670" y="189" width="5" height="3" fill="#000"/>
<rect x="671" y="190" width="3" height="1" fill="#fff"/>
<rect x="680" y="171" width="1" height="37" fill="#000"/>
<rect x="678" y="178" width="5" height="20" fill="#000"/>
<rect x="688" y="176" width="1" height="25" fill="#000"/>
<rect x="686" y="180" width="5" height="18" fill="#000"/>
<rect x="687" y="181" width="3" height="16" fill="#fff"/>
<rect x="696" y="139" width="1" height="45" fill="#000"/>
<rect x="694" y="141" width="5" height="41" fill="#000"/>
<rect x="695" y="142" width="3" height="39" fill="#fff"/>
<rect x="704" y="127" width="1" height="23" fill="#000"/>
<rect x="702" y="141" width="5" height="2" fill="#000"/>
<rect x="712" y="143" width="1" height="24" fill="#000"/>
<rect x="710" y="153" width="5" height="3" fill="#000"/>
<rect x="720" y="142" width="1" height="20" fill="#000"/>
<rect x="718" y="144" width="5" height="10" fill="#000"/>
<rect x="719" y="145" width="3" height="8" fill="#fff"/>
<rect x="728" y="180" width="1" height="27" fill="#000"/>
<rect x="726" y="183" width="5" height="13" fill="#000"/>
<rect x="736" y="186" width="1" height="19" fill="#000"/>
<rect x="734" y="189" width="5" height="5" fill="#000"/>
<rect x="735" y="190" width="3" height="3" fill="#fff"/>
<rect x="744" y="225" width="1" height="41" fill="#000"/>
<rect x="742" y="244" width="5" height="12" fill="#000"/>
<rect x="752" y="228" width="1" height="32" fill="#000"/>
<rect x="750" y="235" width="5" height="22" fill="#000"/>
<rect x="751" y="236" width="3" height="20" fill="#fff"/>
<rect x="760" y="220" width="1" height="26" fill="#000"/>
<rect x="758" y="235" width="5" height="5" fill="#000"/>
<rect x="768" y="237" width="1" height="18" fill="#000"/>
<rect x="766" y="240" width="5" height="5" fill="#000"/>
<rect x="776" y="262" width="1" height="29" fill="#000"/>
<rect x="774" y="277" width="5" height="6" fill="#000"/>
<rect x="775" y="278" width="3" height="4" fill="#fff"/>
<rect x="784" y="274" width="1" height="23" fill="#000"/>
<rect x="782" y="278" width="5" height="19" fill="#000"/>
<rect x="792" y="275" width="1" height="25" fill="#000"/>
<rect x="790" y="287" width="5" height="7" fill="#000"/>
<rect x="791" y="288" width="3" height="5" fill="#fff"/>
<rect x="800" y="254" width="1" height="37" fill="#000"/>
<rect x="798" y="278" width="5" height="12" fill="#000"/>
<rect x="799" y="279" width="3" height="10" fill="#fff"/>
<rect x="808" y="271" width="1" height="33" fill="#000"/>
<rect x="806" y="275" width="5" height="4" fill="#000"/>
<rect x="807" y="276" width="3" height="2" fill="#fff"/>
<rect x="816" y="267" width="1" height="15" fill="#000"/>
<rect x="814" y="271" width="5" height="5" fill="#000"/>
<rect x="815" y="272" width="3" height="3" fill="#fff"/>
<rect x="824" y="308" width="1" height="46" fill="#000"/>
<rect x="822" y="308" width="5" height="44" fill="#000"/>
<rect x="832" y="350" width="1" height="27" fill="#000"/>
<rect x="830" y="351" width="5" height="21" fill="#000"/>
<rect x="840" y="357" width="1" height="44" fill="#000"/>
<rect x="838" y="387" width="5" height="6" fill="#000"/>
<rect x="839" y="388" width="3" height="4" fill="#fff"/>
<rect x="848" y="387" width="1" height="29" fill="#000"/>
<rect x="846" y="393" width="5" height="22" fill="#000"/>
<rect x="856" y="397" width="1" height="56" fill="#000"/>
<rect x="854" y="400" width="5" height="42" fill="#000"/>
<rect x="864" y="438" width="1" height="67" fill="#000"/>
<rect x="862" y="443" width="5" height="9" fill="#000"/>
<rect x="872" y="399" width="1" height="58" fill="#000"/>
<rect x="870" y="407" width="5" height="40" fill="#000"/>
<rect x="871" y="408" width="3" height="38" fill="#fff"/>
<rect x="880" y="396" width="1" height="46" fill="#000"/>
<rect x="878" y="404" width="5" height="31" fill="#000"/>
<rect x="888" y="407" width="1" height="49" fill="#000"/>
<rect x="886" y="419" width="5" height="31" fill="#000"/>
<rect x="887" y="420" width="3" height="29" fill="#fff"/>
<rect x="896" y="405" width="1" height="25" fill="#000"/>
<rect x="894" y="413" width="5" height="7" fill="#000"/>
<rect x="895" y="414" width="3" height="5" fill="#fff"/>
<rect x="904" y="423" width="1" height="39" fill="#000"/>
<rect x="902" y="429" width="5" height="5" fill="#000"/>
<rect x="912" y="398" width="1" height="40" fill="#000"/>
<rect x="910" y="407" width="5" height="26" fill="#000"/>
<rect x="911" y="408" width="3" height="24" fill="#fff"/>
<rect x="920" y="431" width="1" height="39" fill="#000"/>
<rect x="918" y="451" width="5" height="10" fill="#000"/>
<rect x="919" y="452" width="3" height="8" fill="#fff"/>
<rect x="928" y="447" width="1" height="30" fill="#000"/>
<rect x="926" y="451" width="5" height="22" fill="#000"/>
<rect x="936" y="410" width="1" height="38" fill="#000"/>
<rect x="934" y="418" width="5" height="5" fill="#000"/>
<rect x="944" y="372" width="1" height="50" fill="#000"/>
<rect x="942" y="374" width="5" height="46" fill="#000"/>
<rect x="943" y="375" width="3" height="44" fill="#fff"/>
<rect x="952" y="358" width="1" height="33" fill="#000"/>
<rect x="950" y="363" width="5" height="21" fill="#000"/>
<rect x="960" y="371" width="1" height="17" fill="#000"/>
<rect x="958" y="376" width="5" height="8" fill="#000"/>
<rect x="959" y="377" width="3" height="6" fill="#fff"/>
<rect x="968" y="329" width="1" height="26" fill="#000"/>
<rect x="966" y="348" width="5" height="6" fill="#000"/>
<rect x="967" y="349" width="3" height="4" fill="#fff"/>
<rect x="976" y="336" width="1" height="19" fill="#000"/>
<rect x="974" y="348" width="5" height="7" fill="#000"/>
<rect x="984" y="345" width="1" height="36" fill="#000"/>
<rect x="982" y="356" width="5" height="20" fill="#000"/>
<rect x="983" y="357" width="3" height="18" fill="#fff"/>
<rect x="992" y="357" width="1" height="33" fill="#000"/>
<rect x="990" y="358" width="5" height="23" fill="#000"/>
<rect x="1000" y="320" width="1" height="36" fill="#000"/>
<rect x="998" y="343" width="5" height="5" fill="#000"/>
<rect x="999" y="344" width="3" height="3" fill="#fff"/>
<rect x="1008" y="340" width="1" height="47" fill="#000"/>
<rect x="1006" y="343" width="5" height="32" fill="#000"/>
<rect x="1016" y="403" width="1" height="30" fill="#000"/>
<rect x="1014" y="421" width="5" height="5" fill="#000"/>
<rect x="1024" y="421" width="1" height="20" fill="#000"/>
<rect x="1022" y="426" width="5" height="8" fill="#000"/>
<rect x="1032" y="413" width="1" height="28" fill="#000"/>
<rect x="1030" y="419" width="5" height="3" fill="#000"/>
<rect x="1040" y="423" width="1" height="50" fill="#000"/>
<rect x="1038" y="423" width="5" height="39" fill="#000"/>
<rect x="1048" y="466" width="1" height="34" fill="#000"/>
<rect x="1046" y="478" width="5" height="6" fill="#000"/>
<rect x="1056" y="443" width="1" height="41" fill="#000"/>
<rect x="1054" y="451" width="5" height="33" fill="#000"/>
<rect x="1055" y="452" width="3" height="31" fill="#fff"/>
<rect x="1064" y="440" width="1" height="58" fill="#000"/>
<rect x="1062" y="453" width="5" height="43" fill="#000"/>
<rect x="1072" y="476" width="1" height="26" fill="#000"/>
<rect x="1070" y="492" width="5" height="8" fill="#000"/>
<rect x="1080" y="494" width="1" height="46" fill="#000"/>
<rect x="1078" y="503" width="5" height="35" fill="#000"/>
<rect x="1088" y="523" width="1" height="45" fill="#000"/>
<rect x="1086" y="538" width="5" height="13" fill="#000"/>
<rect x="1096" y="530" width="1" height="26" fill="#000"/>
<rect x="1094" y="535" width="5" height="9" fill="#000"/>
<rect x="1095" y="536" width="3" height="7" fill="#fff"/>
<rect x="1104" y="507" width="1" height="34" fill="#000"/>
<rect x="1102" y="533" width="5" height="5" fill="#000"/>
<rect x="1103" y="534" width="3" height="3" fill="#fff"/>
<rect x="1112" y="484" width="1" height="33" fill="#000"/>
<rect x="1110" y="488" width="5" height="25" fill="#000"/>
<rect x="1120" y="501" width="1" height="22" fill="#000"/>
<rect x="1118" y="506" width="5" height="6" fill="#000"/>
<rect x="1119" y="507" width="3" height="4" fill="#fff"/>
<rect x="1128" y="482" width="1" height="34" fill="#000"/>
<rect x="1126" y="492" width="5" height="7" fill="#000"/>
<rect x="1136" y="486" width="1" height="17" fill="#000"/>
<rect x="1134" y="490" width="5" height="9" fill="#000"/>
<rect x="1135" y="491" width="3" height="7" fill="#fff"/>
<rect x="1144" y="461" width="1" height="31" fill="#000"/>
<rect x="1142" y="470" width="5" height="14" fill="#000"/>
<rect x="1152" y="470" width="1" height="35" fill="#000"/>
<rect x="1150" y="473" width="5" height="12" fill="#000"/>
<rect x="1160" y="465" width="1" height="26" fill="#000"/>
<rect x="1158" y="468" width="5" height="18" fill="#000"/>
<rect x="1159" y="469" width="3" height="16" fill="#fff"/>
<rect x="1168" y="476" width="1" height="35" fill="#000"/>
<rect x="1166" y="480" width="5" height="29" fill="#000"/>
<rect x="1176" y="504" width="1" height="17" fill="#000"/>
<rect x="1174" y="508" width="5" height="4" fill="#000"/>
<rect x="1184" y="485" width="1" height="29" fill="#000"/>
<rect x="1182" y="501" width="5" height="6" fill="#000"/>
<rect x="1183" y="502" width="3" height="4" fill="#fff"/>
<rect x="1192" y="494" width="1" height="30" fill="#000"/>
<rect x="1190" y="499" width="5" height="2" fill="#000"/>
<rect x="1200" y="433" width="1" height="33" fill="#000"/>
<rect x="1198" y="452" width="5" height="8" fill="#000"/>
<rect x="1208" y="430" width="1" height="59" fill="#000"/>
<rect x="1206" y="450" width="5" height="36" fill="#000"/>
<rect x="1216" y="479" width="1" height="16" fill="#000"/>
<rect x="1214" y="481" width="5" height="5" fill="#000"/>
<rect x="1215" y="482" width="3" height="3" fill="#fff"/>
<rect x="1224" y="457" width="1" height="43" fill="#000"/>
<rect x="1222" y="466" width="5" height="24" fill="#000"/>
<rect x="1232" y="466" width="1" height="29" fill="#000"/>
<rect x="1230" y="477" width="5" height="11" fill="#000"/>
<rect x="1231" y="478" width="3" height="9" fill="#fff"/>
<rect x="1240" y="472" width="1" height="48" fill="#000"/>
<rect x="1238" y="484" width="5" height="21" fill="#000"/>
<rect x="1248" y="506" width="1" height="33" fill="#000"/>
<rect x="1246" y="507" width="5" height="26" fill="#000"/>
<rect x="1256" y="513" width="1" height="48" fill="#000"/>
<rect x="1254" y="535" width="5" height="11" fill="#000"/>
<rect x="1264" y="506" width="1" height="50" fill="#000"/>
<rect x="1262" y="520" width="5" height="27" fill="#000"/>
<rect x="1263" y="521" width="3" height="25" fill="#fff"/>
<rect x="1272" y="462" width="1" height="32" fill="#000"/>
<rect x="1270" y="473" width="5" height="8" fill="#000"/>
<rect x="1271" y="474" width="3" height="6" fill="#fff"/>
<rect x="1280" y="446" width="1" height="26" fill="#000"/>
<rect x="1278" y="453" width="5" height="19" fill="#000"/>
<rect x="1279" y="454" width="3" height="17" fill="#fff"/>
<rect x="1288" y="413" width="1" height="48" fill="#000"/>
<rect x="1286" y="421" width="5" height="26" fill="#000"/>
<rect x="1287" y="422" width="3" height="24" fill="#fff"/>
<rect x="1296" y="406" width="1" height="21" fill="#000"/>
<rect x="1294" y="420" width="5" height="4" fill="#000"/>
<rect x="1304" y="397" width="1" height="48" fill="#000"/>
<rect x="1302" y="402" width="5" height="28" fill="#000"/>
<rect x="1303" y="403" width="3" height="26" fill="#fff"/>
<rect x="1312" y="400" width="1" height="40" fill="#000"/>
<rect x="1310" y="403" width="5" height="17" fill="#000"/>
<rect x="1320" y="342" width="1" height="41" fill="#000"/>
<rect x="1318" y="345" width="5" height="32" fill="#000"/>
<rect x="1319" y="346" width="3" height="30" fill="#fff"/>
<rect x="1328" y="319" width="1" height="27" fill="#000"/>
<rect x="1326" y="330" width="5" height="16" fill="#000"/>
<rect x="1327" y="331" width="3" height="14" fill="#fff"/>
<rect x="1336" y="300" width="1" height="16" fill="#000"/>
<rect x="1334" y="300" width="5" height="14" fill="#000"/>
<rect x="1344" y="307" width="1" height="28" fill="#000"/>
<rect x="1342" y="307" width="5" height="5" fill="#000"/>
<rect x="1352" y="332" width="1" height="24" fill="#000"/>
<rect x="1350" y="344" width="5" height="6" fill="#000"/>
<rect x="1360" y="321" width="1" height="31" fill="#000"/>
<rect x="1358" y="321" width="5" height="26" fill="#000"/>
<rect x="1359" y="322" width="3" height="24" fill="#fff"/>
<rect x="1368" y="317" width="1" height="35" fill="#000"/>
<rect x="1366" y="317" width="5" height="27" fill="#000"/>
<rect x="1376" y="341" width="1" height="24" fill="#000"/>
<rect x="1374" y="341" width="5" height="9" fill="#000"/>
<rect x="1384" y="322" width="1" height="36" fill="#000"/>
<rect x="1382" y="337" width="5" height="14" fill="#000"/>
<rect x="1392" y="354" width="1" height="21" fill="#000"/>
<rect x="1390" y="355" width="5" height="17" fill="#000"/>
<rect x="1400" y="337" width="1" height="34" fill="#000"/>
<rect x="1398" y="357" width="5" height="4" fill="#000"/>
<rect x="1408" y="363" width="1" height="23" fill="#000"/>
<rect x="1406" y="364" width="5" height="2" fill="#000"/>
<rect x="1416" y="276" width="1" height="70" fill="#000"/>
<rect x="1414" y="276" width="5" height="64" fill="#000"/>
<rect x="1415" y="277" width="3" height="62" fill="#fff"/>
<rect x="1424" y="235" width="1" height="40" fill="#000"/>
<rect x="1422" y="235" width="5" height="40" fill="#000"/>
<rect x="1423" y="236" width="3" height="38" fill="#fff"/>
<rect x="1356" y="246" width="147" height="11" fill="#00ff00"/>
</g>
<rect x="1646.5" y="182.5" width="4" height="4" fill="#fff" stroke="#ff0000" stroke-width="1"/>
<rect x="1646.5" y="209.5" width="4" height="4" fill="#fff" stroke="#ff0000" stroke-width="1"/>
<rect x="1646.5" y="249.5" width="4" height="4" fill="#fff" stroke="#32cd32" stroke-width="1"/>
<rect x="1646.5" y="272.5" width="4" height="4" fill="#fff" stroke="#0000ff" stroke-width="1"/>
<rect x="1646.5" y="298.5" width="4" height="4" fill="#fff" stroke="#0000ff" stroke-width="1"/>
<rect x="1652" y="49" width="2" height="1" fill="#000"/>
<text transform="translate(1657,52.9) scale(0.93,1)" fill="#000" stroke="#000" stroke-width="0.2" >26283.5</text>
<rect x="1652" y="82" width="2" height="1" fill="#000"/>
<text transform="translate(1657,85.9) scale(0.93,1)" fill="#000" stroke="#000" stroke-width="0.2" >26056.0</text>
<rect x="1652" y="115" width="2" height="1" fill="#000"/>
<text transform="translate(1657,118.9) scale(0.93,1)" fill="#000" stroke="#000" stroke-width="0.2" >25822.0</text>
<rect x="1652" y="148" width="2" height="1" fill="#000"/>
<text transform="translate(1657,151.9) scale(0.93,1)" fill="#000" stroke="#000" stroke-width="0.2" >25594.5</text>
<rect x="1652" y="181" width="2" height="1" fill="#000"/>
<text transform="translate(1657,184.9) scale(0.93,1)" fill="#000" stroke="#000" stroke-width="0.2" >25360.5</text>
<rect x="1652" y="214" width="2" height="1" fill="#000"/>
<text transform="translate(1657,217.9) scale(0.93,1)" fill="#000" stroke="#000" stroke-width="0.2" >25126.5</text>
<rect x="1652" y="247" width="2" height="1" fill="#000"/>
<text transform="translate(1657,250.9) scale(0.93,1)" fill="#000" stroke="#000" stroke-width="0.2" >24899.0</text>
<rect x="1652" y="280" width="2" height="1" fill="#000"/>
<text transform="translate(1657,283.9) scale(0.93,1)" fill="#000" stroke="#000" stroke-width="0.2" >24665.0</text>
<rect x="1652" y="313" width="2" height="1" fill="#000"/>
<text transform="translate(1657,316.9) scale(0.93,1)" fill="#000" stroke="#000" stroke-width="0.2" >24437.5</text>
<rect x="1652" y="346" width="2" height="1" fill="#000"/>
<text transform="translate(1657,349.9) scale(0.93,1)" fill="#000" stroke="#000" stroke-width="0.2" >24203.5</text>
<rect x="1652" y="379" width="2" height="1" fill="#000"/>
<text transform="translate(1657,382.9) scale(0.93,1)" fill="#000" stroke="#000" stroke-width="0.2" >23976.0</text>
<rect x="1652" y="412" width="2" height="1" fill="#000"/>
<text transform="translate(1657,415.9) scale(0.93,1)" fill="#000" stroke="#000" stroke-width="0.2" >23742.0</text>
<rect x="1652" y="445" width="2" height="1" fill="#000"/>
<text transform="translate(1657,448.9) scale(0.93,1)" fill="#000" stroke="#000" stroke-width="0.2" >23514.5</text>
<rect x="1652" y="478" width="2" height="1" fill="#000"/>
<text transform="translate(1657,481.9) scale(0.93,1)" fill="#000" stroke="#000" stroke-width="0.2" >23280.5</text>
<rect x="1652" y="511" width="2" height="1" fill="#000"/>
<text transform="translate(1657,514.9) scale(0.93,1)" fill="#000" stroke="#000" stroke-width="0.2" >23053.0</text>
<rect x="1652" y="544" width="2" height="1" fill="#000"/>
<text transform="translate(1657,547.9) scale(0.93,1)" fill="#000" stroke="#000" stroke-width="0.2" >22819.0</text>
<rect x="1652" y="577" width="2" height="1" fill="#000"/>
<text transform="translate(1657,580.9) scale(0.93,1)" fill="#000" stroke="#000" stroke-width="0.2" >22591.5</text>
<rect x="1653" y="178" width="41" height="11" fill="#ff0000"/>
<text transform="translate(1657,187) scale(0.93,1)" fill="#fff" stroke="#fff" stroke-width="0.2" >25338.3</text>
<rect x="1653" y="205" width="41" height="11" fill="#ff0000"/>
<text transform="translate(1657,214) scale(0.93,1)" fill="#fff" stroke="#fff" stroke-width="0.2" >25149.7</text>
<rect x="1653" y="230" width="41" height="11" fill="#000"/>
<text transform="translate(1657,239) scale(0.93,1)" fill="#fff" stroke="#fff" stroke-width="0.2" >24981.0</text>
<rect x="1653" y="245" width="41" height="11" fill="#32cd32"/>
<text transform="translate(1657,254) scale(0.93,1)" fill="#fff" stroke="#fff" stroke-width="0.2" >24870.2</text>
<rect x="1653" y="268" width="41" height="11" fill="#0000ff"/>
<text transform="translate(1657,277) scale(0.93,1)" fill="#fff" stroke="#fff" stroke-width="0.2" >24709.6</text>
<rect x="1653" y="294" width="41" height="11" fill="#0000ff"/>
<text transform="translate(1657,303) scale(0.93,1)" fill="#fff" stroke="#fff" stroke-width="0.2" >24527.9</text>
<text transform="translate(1655,593.4) scale(0.93,1)" fill="#000" stroke="#000" stroke-width="0.2" >433.23</text>
<text transform="translate(1655,665.7) scale(0.93,1)" fill="#000" stroke="#000" stroke-width="0.2" >0.00</text>
<text transform="translate(1655,749.1) scale(0.93,1)" fill="#000" stroke="#000" stroke-width="0.2" >-491.94</text>
<rect x="1652" y="583" width="2" height="1" fill="#000"/>
<rect x="1652" y="662" width="2" height="1" fill="#000"/>
<rect x="1652" y="746" width="2" height="1" fill="#000"/>
<text transform="translate(1654,765.1) scale(0.93,1)" fill="#000" stroke="#000" stroke-width="0.2" >100</text>
<text transform="translate(1654,794.1) scale(0.93,1)" fill="#000" stroke="#000" stroke-width="0.2" >80</text>
<text transform="translate(1654,844.7) scale(0.93,1)" fill="#000" stroke="#000" stroke-width="0.2" >50</text>
<text transform="translate(1654,906.1) scale(0.93,1)" fill="#000" stroke="#000" stroke-width="0.2" >15</text>
<text transform="translate(1654,925.1) scale(0.93,1)" fill="#000" stroke="#000" stroke-width="0.2" >0</text>
<path d="M0 38.2 l1.1 -2 l1.100 2 z" fill="#000" shape-rendering="auto"/>
<text transform="translate(7,38.7) scale(0.96,1)" fill="#000" stroke="#000" stroke-width="0.2" >HK50-,H4</text>
<text transform="translate(54,38.7) scale(0.937,1)" fill="#000" stroke="#000" stroke-width="0.2" >24700.0 24982.0 24693.0 24981.0</text>
<text transform="translate(-1,595) scale(0.93,1)" fill="#000" stroke="#000" stroke-width="0.2" >MACD(12,26,9) 286.95 255.20</text>
<text transform="translate(-2.5,767.3) scale(0.93,1)" fill="#000" stroke="#000" stroke-width="0.2" >RSI(14) 71.9939</text>
<path d="M1430 28 h9 l-4.500 4.500 z" fill="#c0c0c0" shape-rendering="auto"/>
<rect x="0" y="647" width="1" height="16" fill="#c0c0c0"/>
<rect x="8" y="647" width="1" height="16" fill="#c0c0c0"/>
<rect x="16" y="652" width="1" height="11" fill="#c0c0c0"/>
<rect x="24" y="656" width="1" height="7" fill="#c0c0c0"/>
<rect x="32" y="658" width="1" height="5" fill="#c0c0c0"/>
<rect x="40" y="662" width="1" height="1" fill="#c0c0c0"/>
<rect x="48" y="662" width="1" height="11" fill="#c0c0c0"/>
<rect x="56" y="662" width="1" height="20" fill="#c0c0c0"/>
<rect x="64" y="662" width="1" height="35" fill="#c0c0c0"/>
<rect x="72" y="662" width="1" height="44" fill="#c0c0c0"/>
<rect x="80" y="662" width="1" height="48" fill="#c0c0c0"/>
<rect x="88" y="662" width="1" height="51" fill="#c0c0c0"/>
<rect x="96" y="662" width="1" height="65" fill="#c0c0c0"/>
<rect x="104" y="662" width="1" height="73" fill="#c0c0c0"/>
<rect x="112" y="662" width="1" height="81" fill="#c0c0c0"/>
<rect x="120" y="662" width="1" height="83" fill="#c0c0c0"/>
<rect x="128" y="662" width="1" height="80" fill="#c0c0c0"/>
<rect x="136" y="662" width="1" height="76" fill="#c0c0c0"/>
<rect x="144" y="662" width="1" height="72" fill="#c0c0c0"/>
<rect x="152" y="662" width="1" height="74" fill="#c0c0c0"/>
<rect x="160" y="662" width="1" height="71" fill="#c0c0c0"/>
<rect x="168" y="662" width="1" height="70" fill="#c0c0c0"/>
<rect x="176" y="662" width="1" height="64" fill="#c0c0c0"/>
<rect x="184" y="662" width="1" height="59" fill="#c0c0c0"/>
<rect x="192" y="662" width="1" height="56" fill="#c0c0c0"/>
<rect x="200" y="662" width="1" height="51" fill="#c0c0c0"/>
<rect x="208" y="662" width="1" height="47" fill="#c0c0c0"/>
<rect x="216" y="662" width="1" height="42" fill="#c0c0c0"/>
<rect x="224" y="662" width="1" height="46" fill="#c0c0c0"/>
<rect x="232" y="662" width="1" height="49" fill="#c0c0c0"/>
<rect x="240" y="662" width="1" height="51" fill="#c0c0c0"/>
<rect x="248" y="662" width="1" height="51" fill="#c0c0c0"/>
<rect x="256" y="662" width="1" height="49" fill="#c0c0c0"/>
<rect x="264" y="662" width="1" height="49" fill="#c0c0c0"/>
<rect x="272" y="662" width="1" height="41" fill="#c0c0c0"/>
<rect x="280" y="662" width="1" height="32" fill="#c0c0c0"/>
<rect x="288" y="662" width="1" height="25" fill="#c0c0c0"/>
<rect x="296" y="662" width="1" height="16" fill="#c0c0c0"/>
<rect x="304" y="662" width="1" height="1" fill="#c0c0c0"/>
<rect x="312" y="653" width="1" height="10" fill="#c0c0c0"/>
<rect x="320" y="648" width="1" height="15" fill="#c0c0c0"/>
<rect x="328" y="646" width="1" height="17" fill="#c0c0c0"/>
<rect x="336" y="644" width="1" height="19" fill="#c0c0c0"/>
<rect x="344" y="641" width="1" height="22" fill="#c0c0c0"/>
<rect x="352" y="635" width="1" height="28" fill="#c0c0c0"/>
<rect x="360" y="633" width="1" height="30" fill="#c0c0c0"/>
<rect x="368" y="628" width="1" height="35" fill="#c0c0c0"/>
<rect x="376" y="621" width="1" height="42" fill="#c0c0c0"/>
<rect x="384" y="615" width="1" height="48" fill="#c0c0c0"/>
<rect x="392" y="606" width="1" height="57" fill="#c0c0c0"/>
<rect x="400" y="598" width="1" height="65" fill="#c0c0c0"/>
<rect x="408" y="595" width="1" height="68" fill="#c0c0c0"/>
<rect x="416" y="594" width="1" height="69" fill="#c0c0c0"/>
<rect x="424" y="593" width="1" height="70" fill="#c0c0c0"/>
<rect x="432" y="592" width="1" height="71" fill="#c0c0c0"/>
<rect x="440" y="592" width="1" height="71" fill="#c0c0c0"/>
<rect x="448" y="593" width="1" height="70" fill="#c0c0c0"/>
<rect x="456" y="594" width="1" height="69" fill="#c0c0c0"/>
<rect x="464" y="599" width="1" height="64" fill="#c0c0c0"/>
<rect x="472" y="608" width="1" height="55" fill="#c0c0c0"/>
<rect x="480" y="617" width="1" height="46" fill="#c0c0c0"/>
<rect x="488" y="624" width="1" height="39" fill="#c0c0c0"/>
<rect x="496" y="632" width="1" height="31" fill="#c0c0c0"/>
<rect x="504" y="639" width="1" height="24" fill="#c0c0c0"/>
<rect x="512" y="646" width="1" height="17" fill="#c0c0c0"/>
<rect x="520" y="656" width="1" height="7" fill="#c0c0c0"/>
<rect x="528" y="662" width="1" height="1" fill="#c0c0c0"/>
<rect x="536" y="662" width="1" height="2" fill="#c0c0c0"/>
<rect x="544" y="662" width="1" height="9" fill="#c0c0c0"/>
<rect x="552" y="662" width="1" height="17" fill="#c0c0c0"/>
<rect x="560" y="662" width="1" height="19" fill="#c0c0c0"/>
<rect x="568" y="662" width="1" height="21" fill="#c0c0c0"/>
<rect x="576" y="662" width="1" height="20" fill="#c0c0c0"/>
<rect x="584" y="662" width="1" height="22" fill="#c0c0c0"/>
<rect x="592" y="662" width="1" height="26" fill="#c0c0c0"/>
<rect x="600" y="662" width="1" height="29" fill="#c0c0c0"/>
<rect x="608" y="662" width="1" height="32" fill="#c0c0c0"/>
<rect x="616" y="662" width="1" height="34" fill="#c0c0c0"/>
<rect x="624" y="662" width="1" height="34" fill="#c0c0c0"/>
<rect x="632" y="662" width="1" height="38" fill="#c0c0c0"/>
<rect x="640" y="662" width="1" height="32" fill="#c0c0c0"/>
<rect x="648" y="662" width="1" height="30" fill="#c0c0c0"/>
<rect x="656" y="662" width="1" height="24" fill="#c0c0c0"/>
<rect x="664" y="662" width="1" height="17" fill="#c0c0c0"/>
<rect x="672" y="662" width="1" height="11" fill="#c0c0c0"/>
<rect x="680" y="662" width="1" height="8" fill="#c0c0c0"/>
<rect x="688" y="662" width="1" height="2" fill="#c0c0c0"/>
<rect x="696" y="657" width="1" height="6" fill="#c0c0c0"/>
<rect x="704" y="652" width="1" height="11" fill="#c0c0c0"/>
<rect x="712" y="648" width="1" height="15" fill="#c0c0c0"/>
<rect x="720" y="645" width="1" height="18" fill="#c0c0c0"/>
<rect x="728" y="647" width="1" height="16" fill="#c0c0c0"/>
<rect x="736" y="649" width="1" height="14" fill="#c0c0c0"/>
<rect x="744" y="657" width="1" height="6" fill="#c0c0c0"/>
<rect x="752" y="662" width="1" height="1" fill="#c0c0c0"/>
<rect x="760" y="662" width="1" height="3" fill="#c0c0c0"/>
<rect x="768" y="662" width="1" height="7" fill="#c0c0c0"/>
<rect x="776" y="662" width="1" height="13" fill="#c0c0c0"/>
<rect x="784" y="662" width="1" height="20" fill="#c0c0c0"/>
<rect x="792" y="662" width="1" height="24" fill="#c0c0c0"/>
<rect x="800" y="662" width="1" height="26" fill="#c0c0c0"/>
<rect x="808" y="662" width="1" height="26" fill="#c0c0c0"/>
<rect x="816" y="662" width="1" height="26" fill="#c0c0c0"/>
<rect x="824" y="662" width="1" height="34" fill="#c0c0c0"/>
<rect x="832" y="662" width="1" height="42" fill="#c0c0c0"/>
<rect x="840" y="662" width="1" height="50" fill="#c0c0c0"/>
<rect x="848" y="662" width="1" height="57" fill="#c0c0c0"/>
<rect x="856" y="662" width="1" height="66" fill="#c0c0c0"/>
<rect x="864" y="662" width="1" height="72" fill="#c0c0c0"/>
<rect x="872" y="662" width="1" height="72" fill="#c0c0c0"/>
<rect x="880" y="662" width="1" height="75" fill="#c0c0c0"/>
<rect x="888" y="662" width="1" height="73" fill="#c0c0c0"/>
<rect x="896" y="662" width="1" height="71" fill="#c0c0c0"/>
<rect x="904" y="662" width="1" height="70" fill="#c0c0c0"/>
<rect x="912" y="662" width="1" height="68" fill="#c0c0c0"/>
<rect x="920" y="662" width="1" height="69" fill="#c0c0c0"/>
<rect x="928" y="662" width="1" height="71" fill="#c0c0c0"/>
<rect x="936" y="662" width="1" height="66" fill="#c0c0c0"/>
<rect x="944" y="662" width="1" height="57" fill="#c0c0c0"/>
<rect x="952" y="662" width="1" height="50" fill="#c0c0c0"/>
<rect x="960" y="662" width="1" height="44" fill="#c0c0c0"/>
<rect x="968" y="662" width="1" height="35" fill="#c0c0c0"/>
<rect x="976" y="662" width="1" height="29" fill="#c0c0c0"/>
<rect x="984" y="662" width="1" height="23" fill="#c0c0c0"/>
<rect x="992" y="662" width="1" height="21" fill="#c0c0c0"/>
<rect x="1000" y="662" width="1" height="16" fill="#c0c0c0"/>
<rect x="1008" y="662" width="1" height="15" fill="#c0c0c0"/>
<rect x="1016" y="662" width="1" height="18" fill="#c0c0c0"/>
<rect x="1024" y="662" width="1" height="22" fill="#c0c0c0"/>
<rect x="1032" y="662" width="1" height="26" fill="#c0c0c0"/>
<rect x="1040" y="662" width="1" height="29" fill="#c0c0c0"/>
<rect x="1048" y="662" width="1" height="35" fill="#c0c0c0"/>
<rect x="1056" y="662" width="1" height="36" fill="#c0c0c0"/>
<rect x="1064" y="662" width="1" height="41" fill="#c0c0c0"/>
<rect x="1072" y="662" width="1" height="44" fill="#c0c0c0"/>
<rect x="1080" y="662" width="1" height="51" fill="#c0c0c0"/>
<rect x="1088" y="662" width="1" height="56" fill="#c0c0c0"/>
<rect x="1096" y="662" width="1" height="59" fill="#c0c0c0"/>
<rect x="1104" y="662" width="1" height="59" fill="#c0c0c0"/>
<rect x="1112" y="662" width="1" height="57" fill="#c0c0c0"/>
<rect x="1120" y="662" width="1" height="54" fill="#c0c0c0"/>
<rect x="1128" y="662" width="1" height="52" fill="#c0c0c0"/>
<rect x="1136" y="662" width="1" height="46" fill="#c0c0c0"/>
<rect x="1144" y="662" width="1" height="41" fill="#c0c0c0"/>
<rect x="1152" y="662" width="1" height="37" fill="#c0c0c0"/>
<rect x="1160" y="662" width="1" height="32" fill="#c0c0c0"/>
<rect x="1168" y="662" width="1" height="33" fill="#c0c0c0"/>
<rect x="1176" y="662" width="1" height="31" fill="#c0c0c0"/>
<rect x="1184" y="662" width="1" height="31" fill="#c0c0c0"/>
<rect x="1192" y="662" width="1" height="28" fill="#c0c0c0"/>
<rect x="1200" y="662" width="1" height="22" fill="#c0c0c0"/>
<rect x="1208" y="662" width="1" height="21" fill="#c0c0c0"/>
<rect x="1216" y="662" width="1" height="18" fill="#c0c0c0"/>
<rect x="1224" y="662" width="1" height="17" fill="#c0c0c0"/>
<rect x="1232" y="662" width="1" height="15" fill="#c0c0c0"/>
<rect x="1240" y="662" width="1" height="16" fill="#c0c0c0"/>
<rect x="1248" y="662" width="1" height="19" fill="#c0c0c0"/>
<rect x="1256" y="662" width="1" height="22" fill="#c0c0c0"/>
<rect x="1264" y="662" width="1" height="22" fill="#c0c0c0"/>
<rect x="1272" y="662" width="1" height="18" fill="#c0c0c0"/>
<rect x="1280" y="662" width="1" height="12" fill="#c0c0c0"/>
<rect x="1288" y="662" width="1" height="2" fill="#c0c0c0"/>
<rect x="1296" y="659" width="1" height="4" fill="#c0c0c0"/>
<rect x="1304" y="653" width="1" height="10" fill="#c0c0c0"/>
<rect x="1312" y="649" width="1" height="14" fill="#c0c0c0"/>
<rect x="1320" y="639" width="1" height="24" fill="#c0c0c0"/>
<rect x="1328" y="630" width="1" height="33" fill="#c0c0c0"/>
<rect x="1336" y="621" width="1" height="42" fill="#c0c0c0"/>
<rect x="1344" y="615" width="1" height="48" fill="#c0c0c0"/>
<rect x="1352" y="613" width="1" height="50" fill="#c0c0c0"/>
<rect x="1360" y="611" width="1" height="52" fill="#c0c0c0"/>
<rect x="1368" y="612" width="1" height="51" fill="#c0c0c0"/>
<rect x="1376" y="614" width="1" height="49" fill="#c0c0c0"/>
<rect x="1384" y="616" width="1" height="47" fill="#c0c0c0"/>
<rect x="1392" y="619" width="1" height="44" fill="#c0c0c0"/>
<rect x="1400" y="622" width="1" height="41" fill="#c0c0c0"/>
<rect x="1408" y="625" width="1" height="38" fill="#c0c0c0"/>
<rect x="1416" y="618" width="1" height="45" fill="#c0c0c0"/>
<rect x="1424" y="611" width="1" height="52" fill="#c0c0c0"/>
<polyline points="0.5,645.5 13.5,644.5 30.5,646.5 43.5,651.5 57.2,659.5 70.5,667.2 83.5,678.8 97.2,692.2 110.5,707.2 123.5,720.5 133.5,727.2 143.5,731.5 157.2,735.5 167.2,737.8 177.2,736.2 190.5,731.5 203.5,726.2 217.2,720.5 230.5,715.5 243.5,712.2 257.2,710.5 270.5,708.8 283.5,706.2 297.2,700.5 310.5,690.5 323.5,678.8 337.2,665.5 350.5,655.5 363.5,647.2 377.2,638.8 390.5,630.5 403.5,622.2 417.2,613.2 430.5,606.2 443.5,599.5 453.5,596.2 467.2,594.8 480.5,597.2 493.5,603.8 507.2,613.8 520.5,623.8 533.5,637.2 547.2,648.8 560.5,658.8 566.5,662.5 579.5,670.5 593.2,677.2 606.5,682.2 619.5,686.2 633.2,689.5 646.5,692.8 659.5,692.8 673.2,689.8 686.5,684.8 699.5,677.2 713.2,668.8 726.5,660.5 739.5,654.8 753.2,652.8 766.5,654.5 779.5,658.2 793.2,664.8 806.5,672.8 819.5,678.8 833.2,685.5 846.5,694.8 859.5,702.8 873.2,712.2 886.5,719.5 899.5,727.2 913.2,731.2 926.5,732.8 939.5,732.2 953.2,727.8 966.5,722.2 979.5,715.5 993.2,705.5 1006.5,694.8 1016.5,689.8 1029.5,684.8 1039.5,683.8 1053.2,685.5 1066.5,688.8 1079.5,695.5 1093.2,702.8 1106.5,708.8 1119.5,712.2 1132.5,714.8 1145.5,713.8 1159.2,710.5 1172.5,705.5 1185.5,700.5 1199.2,695.5 1212.5,690.5 1225.5,687.2 1239.2,684.8 1252.5,682.2 1265.5,681.5 1279.2,679.5 1292.5,676.2 1305.5,672.2 1319.2,665.5 1332.5,655.5 1345.5,643.8 1359.2,632.8 1372.5,625.5 1385.5,618.8 1399.2,615.5 1412.5,617.2 1424.5,617.2" fill="none" stroke="#ff0000" stroke-width="1" stroke-dasharray="3 3"/>
<path d="M0 790.5 H1651" stroke="#c0c0c0" stroke-width="1" stroke-dasharray="3 3" fill="none"/>
<path d="M0 841.5 H1651" stroke="#c0c0c0" stroke-width="1" stroke-dasharray="3 3" fill="none"/>
<path d="M0 902.5 H1651" stroke="#c0c0c0" stroke-width="1" stroke-dasharray="3 3" fill="none"/>
<polyline points="0.5,833.8 8.5,832.2 16.5,849.8 24.5,844.8 32.5,846.2 40.5,856.2 48.5,861.2 56.5,866.2 64.5,877.2 72.5,871.5 80.5,867.2 88.5,863.2 96.5,880.5 104.5,876.2 112.5,877.2 120.5,870.5 128.5,862.8 136.5,857.8 144.5,858.8 152.5,866.2 160.5,862.8 168.5,864.8 176.5,851.5 184.5,853.8 192.5,857.2 200.5,849.8 208.5,853.2 216.5,848.8 224.5,863.8 232.5,863.8 240.5,858.8 248.5,859.8 256.5,863.2 264.5,861.5 272.5,839.5 280.5,835.5 288.5,837.8 296.5,829.8 304.5,816.5 312.5,818.8 320.5,828.8 328.5,833.8 336.5,831.5 344.5,827.2 352.5,822.2 360.5,826.5 368.5,819.5 376.5,813.8 384.5,811.2 392.5,804.8 400.5,803.8 408.5,808.8 416.5,812.8 424.5,811.2 432.5,809.8 440.5,808.8 448.5,808.8 456.5,816.2 464.5,815.8 472.5,840.5 480.5,840.5 488.5,843.2 496.5,848.8 504.5,849.8 512.5,853.8 520.5,864.8 528.5,860.5 536.5,849.8 544.5,862.2 552.5,867.8 560.5,857.2 568.5,855.8 576.5,847.8 584.5,856.5 592.5,859.8 600.5,864.8 608.5,864.8 616.5,864.8 624.5,861.8 632.5,871.5 640.5,844.8 648.5,847.8 656.5,837.2 664.5,833.8 672.5,832.5 680.5,835.8 688.5,831.5 696.5,821.8 704.5,821.8 712.5,826.8 720.5,823.8 728.5,841.2 736.5,839.8 744.5,857.8 752.5,851.8 760.5,852.5 768.5,853.8 776.5,861.2 784.5,865.8 792.5,862.5 800.5,858.8 808.5,857.8 816.5,855.8 824.5,874.5 832.5,878.5 840.5,880.8 848.5,884.5 856.5,888.5 864.5,889.8 872.5,872.2 880.5,876.5 888.5,870.8 896.5,868.5 904.5,872.5 912.5,863.2 920.5,871.8 928.5,874.8 936.5,859.8 944.5,844.8 952.5,848.2 960.5,845.2 968.5,837.8 976.5,839.5 984.5,841.2 992.5,846.8 1000.5,836.8 1008.5,845.8 1016.5,856.5 1024.5,858.8 1032.5,855.2 1040.5,863.5 1048.5,867.5 1056.5,857.2 1064.5,865.8 1072.5,867.2 1080.5,872.8 1088.5,874.8 1096.5,870.5 1104.5,868.8 1112.5,862.2 1120.5,858.8 1128.5,856.5 1136.5,854.5 1144.5,850.5 1152.5,851.8 1160.5,844.8 1168.5,857.5 1176.5,859.2 1184.5,854.5 1192.5,852.8 1200.5,837.8 1208.5,847.2 1216.5,845.8 1224.5,847.8 1232.5,843.5 1240.5,852.2 1248.5,861.5 1256.5,865.2 1264.5,855.5 1272.5,837.8 1280.5,831.5 1288.5,823.5 1296.5,824.8 1304.5,819.8 1312.5,825.8 1320.5,811.2 1328.5,807.8 1336.5,805.8 1344.5,804.5 1352.5,819.8 1360.5,813.8 1368.5,821.5 1376.5,824.8 1384.5,824.8 1392.5,832.8 1400.5,829.8 1408.5,831.8 1416.5,811.2 1424.5,805.5" fill="none" stroke="#1e90ff" stroke-width="1" />
<text transform="translate(-8.6,940.7) scale(0.93,1)" fill="#000" stroke="#000" stroke-width="0.2" >9 Sep 2021</text>
<rect x="56" y="929" width="1" height="4" fill="#000"/>
<text transform="translate(55.4,940.7) scale(0.93,1)" fill="#000" stroke="#000" stroke-width="0.2" >15 Sep 05:00</text>
<rect x="120" y="929" width="1" height="4" fill="#000"/>
<text transform="translate(119.4,940.7) scale(0.93,1)" fill="#000" stroke="#000" stroke-width="0.2" >21 Sep 05:00</text>
<rect x="184" y="929" width="1" height="4" fill="#000"/>
<text transform="translate(183.4,940.7) scale(0.93,1)" fill="#000" stroke="#000" stroke-width="0.2" >28 Sep 05:00</text>
<rect x="248" y="929" width="1" height="4" fill="#000"/>
<text transform="translate(247.4,940.7) scale(0.93,1)" fill="#000" stroke="#000" stroke-width="0.2" >5 Oct 05:00</text>
<rect x="312" y="929" width="1" height="4" fill="#000"/>
<text transform="translate(311.4,940.7) scale(0.93,1)" fill="#000" stroke="#000" stroke-width="0.2" >11 Oct 05:00</text>
<rect x="376" y="929" width="1" height="4" fill="#000"/>
<text transform="translate(375.4,940.7) scale(0.93,1)" fill="#000" stroke="#000" stroke-width="0.2" >19 Oct 01:15</text>
<rect x="440" y="929" width="1" height="4" fill="#000"/>
<text transform="translate(439.4,940.7) scale(0.93,1)" fill="#000" stroke="#000" stroke-width="0.2" >25 Oct 01:15</text>
<rect x="504" y="929" width="1" height="4" fill="#000"/>
<text transform="translate(503.4,940.7) scale(0.93,1)" fill="#000" stroke="#000" stroke-width="0.2" >29 Oct 01:15</text>
<rect x="568" y="929" width="1" height="4" fill="#000"/>
<text transform="translate(567.4,940.7) scale(0.93,1)" fill="#000" stroke="#000" stroke-width="0.2" >4 Nov 01:15</text>
<rect x="632" y="929" width="1" height="4" fill="#000"/>
<text transform="translate(631.4,940.7) scale(0.93,1)" fill="#000" stroke="#000" stroke-width="0.2" >10 Nov 01:15</text>
<rect x="696" y="929" width="1" height="4" fill="#000"/>
<text transform="translate(695.4,940.7) scale(0.93,1)" fill="#000" stroke="#000" stroke-width="0.2" >16 Nov 01:15</text>
<rect x="760" y="929" width="1" height="4" fill="#000"/>
<text transform="translate(759.4,940.7) scale(0.93,1)" fill="#000" stroke="#000" stroke-width="0.2" >22 Nov 01:15</text>
<rect x="824" y="929" width="1" height="4" fill="#000"/>
<text transform="translate(823.4,940.7) scale(0.93,1)" fill="#000" stroke="#000" stroke-width="0.2" >26 Nov 01:15</text>
<rect x="888" y="929" width="1" height="4" fill="#000"/>
<text transform="translate(887.4,940.7) scale(0.93,1)" fill="#000" stroke="#000" stroke-width="0.2" >2 Dec 01:15</text>
<rect x="952" y="929" width="1" height="4" fill="#000"/>
<text transform="translate(951.4,940.7) scale(0.93,1)" fill="#000" stroke="#000" stroke-width="0.2" >8 Dec 01:15</text>
<rect x="1016" y="929" width="1" height="4" fill="#000"/>
<text transform="translate(1015.4,940.7) scale(0.93,1)" fill="#000" stroke="#000" stroke-width="0.2" >14 Dec 01:15</text>
<rect x="1080" y="929" width="1" height="4" fill="#000"/>
<text transform="translate(1079.4,940.7) scale(0.93,1)" fill="#000" stroke="#000" stroke-width="0.2" >20 Dec 01:15</text>
<rect x="1144" y="929" width="1" height="4" fill="#000"/>
<text transform="translate(1143.4,940.7) scale(0.93,1)" fill="#000" stroke="#000" stroke-width="0.2" >24 Dec 01:15</text>
<rect x="1208" y="929" width="1" height="4" fill="#000"/>
<text transform="translate(1207.4,940.7) scale(0.93,1)" fill="#000" stroke="#000" stroke-width="0.2" >3 Jan 01:15</text>
<rect x="1272" y="929" width="1" height="4" fill="#000"/>
<text transform="translate(1271.4,940.7) scale(0.93,1)" fill="#000" stroke="#000" stroke-width="0.2" >7 Jan 01:15</text>
<rect x="1336" y="929" width="1" height="4" fill="#000"/>
<text transform="translate(1335.4,940.7) scale(0.93,1)" fill="#000" stroke="#000" stroke-width="0.2" >13 Jan 01:15</text>
<rect x="1400" y="929" width="1" height="4" fill="#000"/>
<text transform="translate(1399.4,940.7) scale(0.93,1)" fill="#000" stroke="#000" stroke-width="0.2" >19 Jan 01:15</text>
<rect x="251.5" y="418.5" width="60" height="18" fill="#fff" stroke="#ff0000" stroke-width="1"/>
<text transform="translate(281.5,433.7) scale(0.945,1)" fill="#ff0000" font-size="16.7" text-anchor="middle" shape-rendering="auto">23641.4</text>
<rect x="240" y="427" width="11" height="1" fill="#ff0000"/>
<rect x="929.5" y="312.5" width="61" height="18" fill="#fff" stroke="#ff0000" stroke-width="1"/>
<text transform="translate(960.0,327.7) scale(0.945,1)" fill="#ff0000" font-size="16.7" text-anchor="middle" shape-rendering="auto">24383.1</text>
<rect x="990" y="321" width="11" height="1" fill="#ff0000"/>
<rect x="1017.5" y="559.5" width="61" height="18" fill="#fff" stroke="#ff0000" stroke-width="1"/>
<text transform="translate(1048.0,574.7) scale(0.945,1)" fill="#ff0000" font-size="16.7" text-anchor="middle" shape-rendering="auto">22655.0</text>
<rect x="1079" y="568" width="10" height="1" fill="#ff0000"/>
<rect x="1185.5" y="551.5" width="61" height="18" fill="#fff" stroke="#ff0000" stroke-width="1"/>
<text transform="translate(1216.0,566.7) scale(0.945,1)" fill="#ff0000" font-size="16.7" text-anchor="middle" shape-rendering="auto">22706.9</text>
<rect x="1247" y="560" width="10" height="1" fill="#ff0000"/>
<rect x="1337.5" y="376.5" width="61" height="18" fill="#fff" stroke="#ff0000" stroke-width="1"/>
<text transform="translate(1368.0,391.7) scale(0.945,1)" fill="#ff0000" font-size="16.7" text-anchor="middle" shape-rendering="auto">23934.2</text>
<rect x="1402" y="385" width="7" height="1" fill="#ff0000"/>
<rect x="1399.5" y="383.5" width="3" height="3" fill="#fff" stroke="#ff0000"/>
<rect x="1195.5" y="239.5" width="73" height="24" fill="#fff" stroke="#ff0000" stroke-width="1"/>
<text transform="translate(1232.0,259.8) scale(0.895,1)" fill="#ff0000" font-size="21.6" text-anchor="middle" shape-rendering="auto">24870.2</text>
<rect x="1185" y="251" width="7" height="1" fill="#ff0000"/>
<rect x="1192.5" y="249.5" width="2" height="3" fill="#fff" stroke="#ff0000"/>
<path d="M1253.0 552.0 L1338.4 315.5" stroke="#ff0000" stroke-width="3.8" fill="none" shape-rendering="auto"/>
<path d="M1341.5 307.0 L1342.9 319.2 L1338.4 315.5 L1332.6 315.5 Z" fill="#ff0000" shape-rendering="auto"/>
<path d="M1341.5 307.0 L1397.9 368.9" stroke="#ff0000" stroke-width="3.7" fill="none" shape-rendering="auto"/>
<path d="M1404.0 375.5 L1392.5 371.1 L1397.9 368.9 L1400.6 363.7 Z" fill="#ff0000" shape-rendering="auto"/>
<path d="M1404.0 375.5 L1432.8 225.3" stroke="#ff0000" stroke-width="3.5" fill="none" shape-rendering="auto"/>
<path d="M1434.5 216.5 L1437.3 228.2 L1432.8 225.3 L1427.5 226.4 Z" fill="#ff0000" shape-rendering="auto"/>
<path d="M1403.0 625.0 L1458.6 602.8" stroke="#ff0000" stroke-width="3.4" fill="none" shape-rendering="auto"/>
<path d="M1467.0 599.5 L1458.6 608.2 L1458.6 602.8 L1454.9 598.9 Z" fill="#ff0000" shape-rendering="auto"/>
<path d="M1397.0 829.5 L1431.9 802.5" stroke="#ff0000" stroke-width="3.4" fill="none" shape-rendering="auto"/>
<path d="M1439.0 797.0 L1433.4 807.7 L1431.9 802.5 L1427.2 799.8 Z" fill="#ff0000" shape-rendering="auto"/>
</svg>
<div id="panel">
<div class="rbtn" style="left:0;top:0;width:46px;height:25px;border-left:none"><span style="position:absolute;left:7px;top:4px;letter-spacing:-1.1px;line-height:14px;">SELL</span></div>
<div style="left:0;top:23px;width:43px;height:1px;background:#f09090"></div>
<div class="rbtn" style="left:162px;top:0;width:52px;height:25px;"><span style="position:absolute;left:12.500px;top:4px;letter-spacing:-0.800px;line-height:14px;">BUY</span></div>
<div style="left:166px;top:23px;width:44px;height:1px;background:#f09090"></div>
<div class="rbox" style="left:0;top:24px;width:104px;height:33px;border-left:none"><span class="sm" style="position:absolute;left:11.5px;top:17px;">24979</span><span class="dot" style="position:absolute;left:48.5px;top:4px;">.</span><span class="big" style="position:absolute;left:56.4px;top:-0.7px;">5</span></div>
<div class="rbox" style="left:106px;top:24px;width:108px;height:33px;"><span class="sm" style="position:absolute;left:14px;top:17px;">24993</span><span class="dot" style="position:absolute;left:52.3px;top:4px;">.</span><span class="big" style="position:absolute;left:60.1px;top:-0.7px;">5</span></div>
<div style="left:46px;top:0;width:116px;height:24px;background:#fff"></div>
<div style="left:49px;top:0;width:111px;height:22px;border:1px solid #a0a8b0;background:#fff;"></div>
<div style="left:50px;top:1px;width:20px;height:20px;background:linear-gradient(#f0f0f0 0%,#e4e4e4 48%,#d2d2d2 52%,#c8c8c8 100%);border-right:1px solid #a8a8a8"></div>
<div style="left:138px;top:1px;width:21px;height:20px;background:linear-gradient(#f0f0f0 0%,#e4e4e4 48%,#d2d2d2 52%,#c8c8c8 100%);border-left:1px solid #a8a8a8"></div>
<svg style="position:absolute;left:56px;top:8px" width="8" height="6"><path d="M0.500 1 h6 l-3 3.500 z" fill="#4858b8"/></svg>
<svg style="position:absolute;left:145px;top:7px" width="8" height="6"><path d="M0.500 5 h6 l-3 -3.500 z" fill="#4858b8"/></svg>
<div style="left:70px;top:3px;width:65px;height:16px;text-align:right;font-size:12.500px;line-height:16px;color:#000;">1.00</div>
</div>
</body></html>
